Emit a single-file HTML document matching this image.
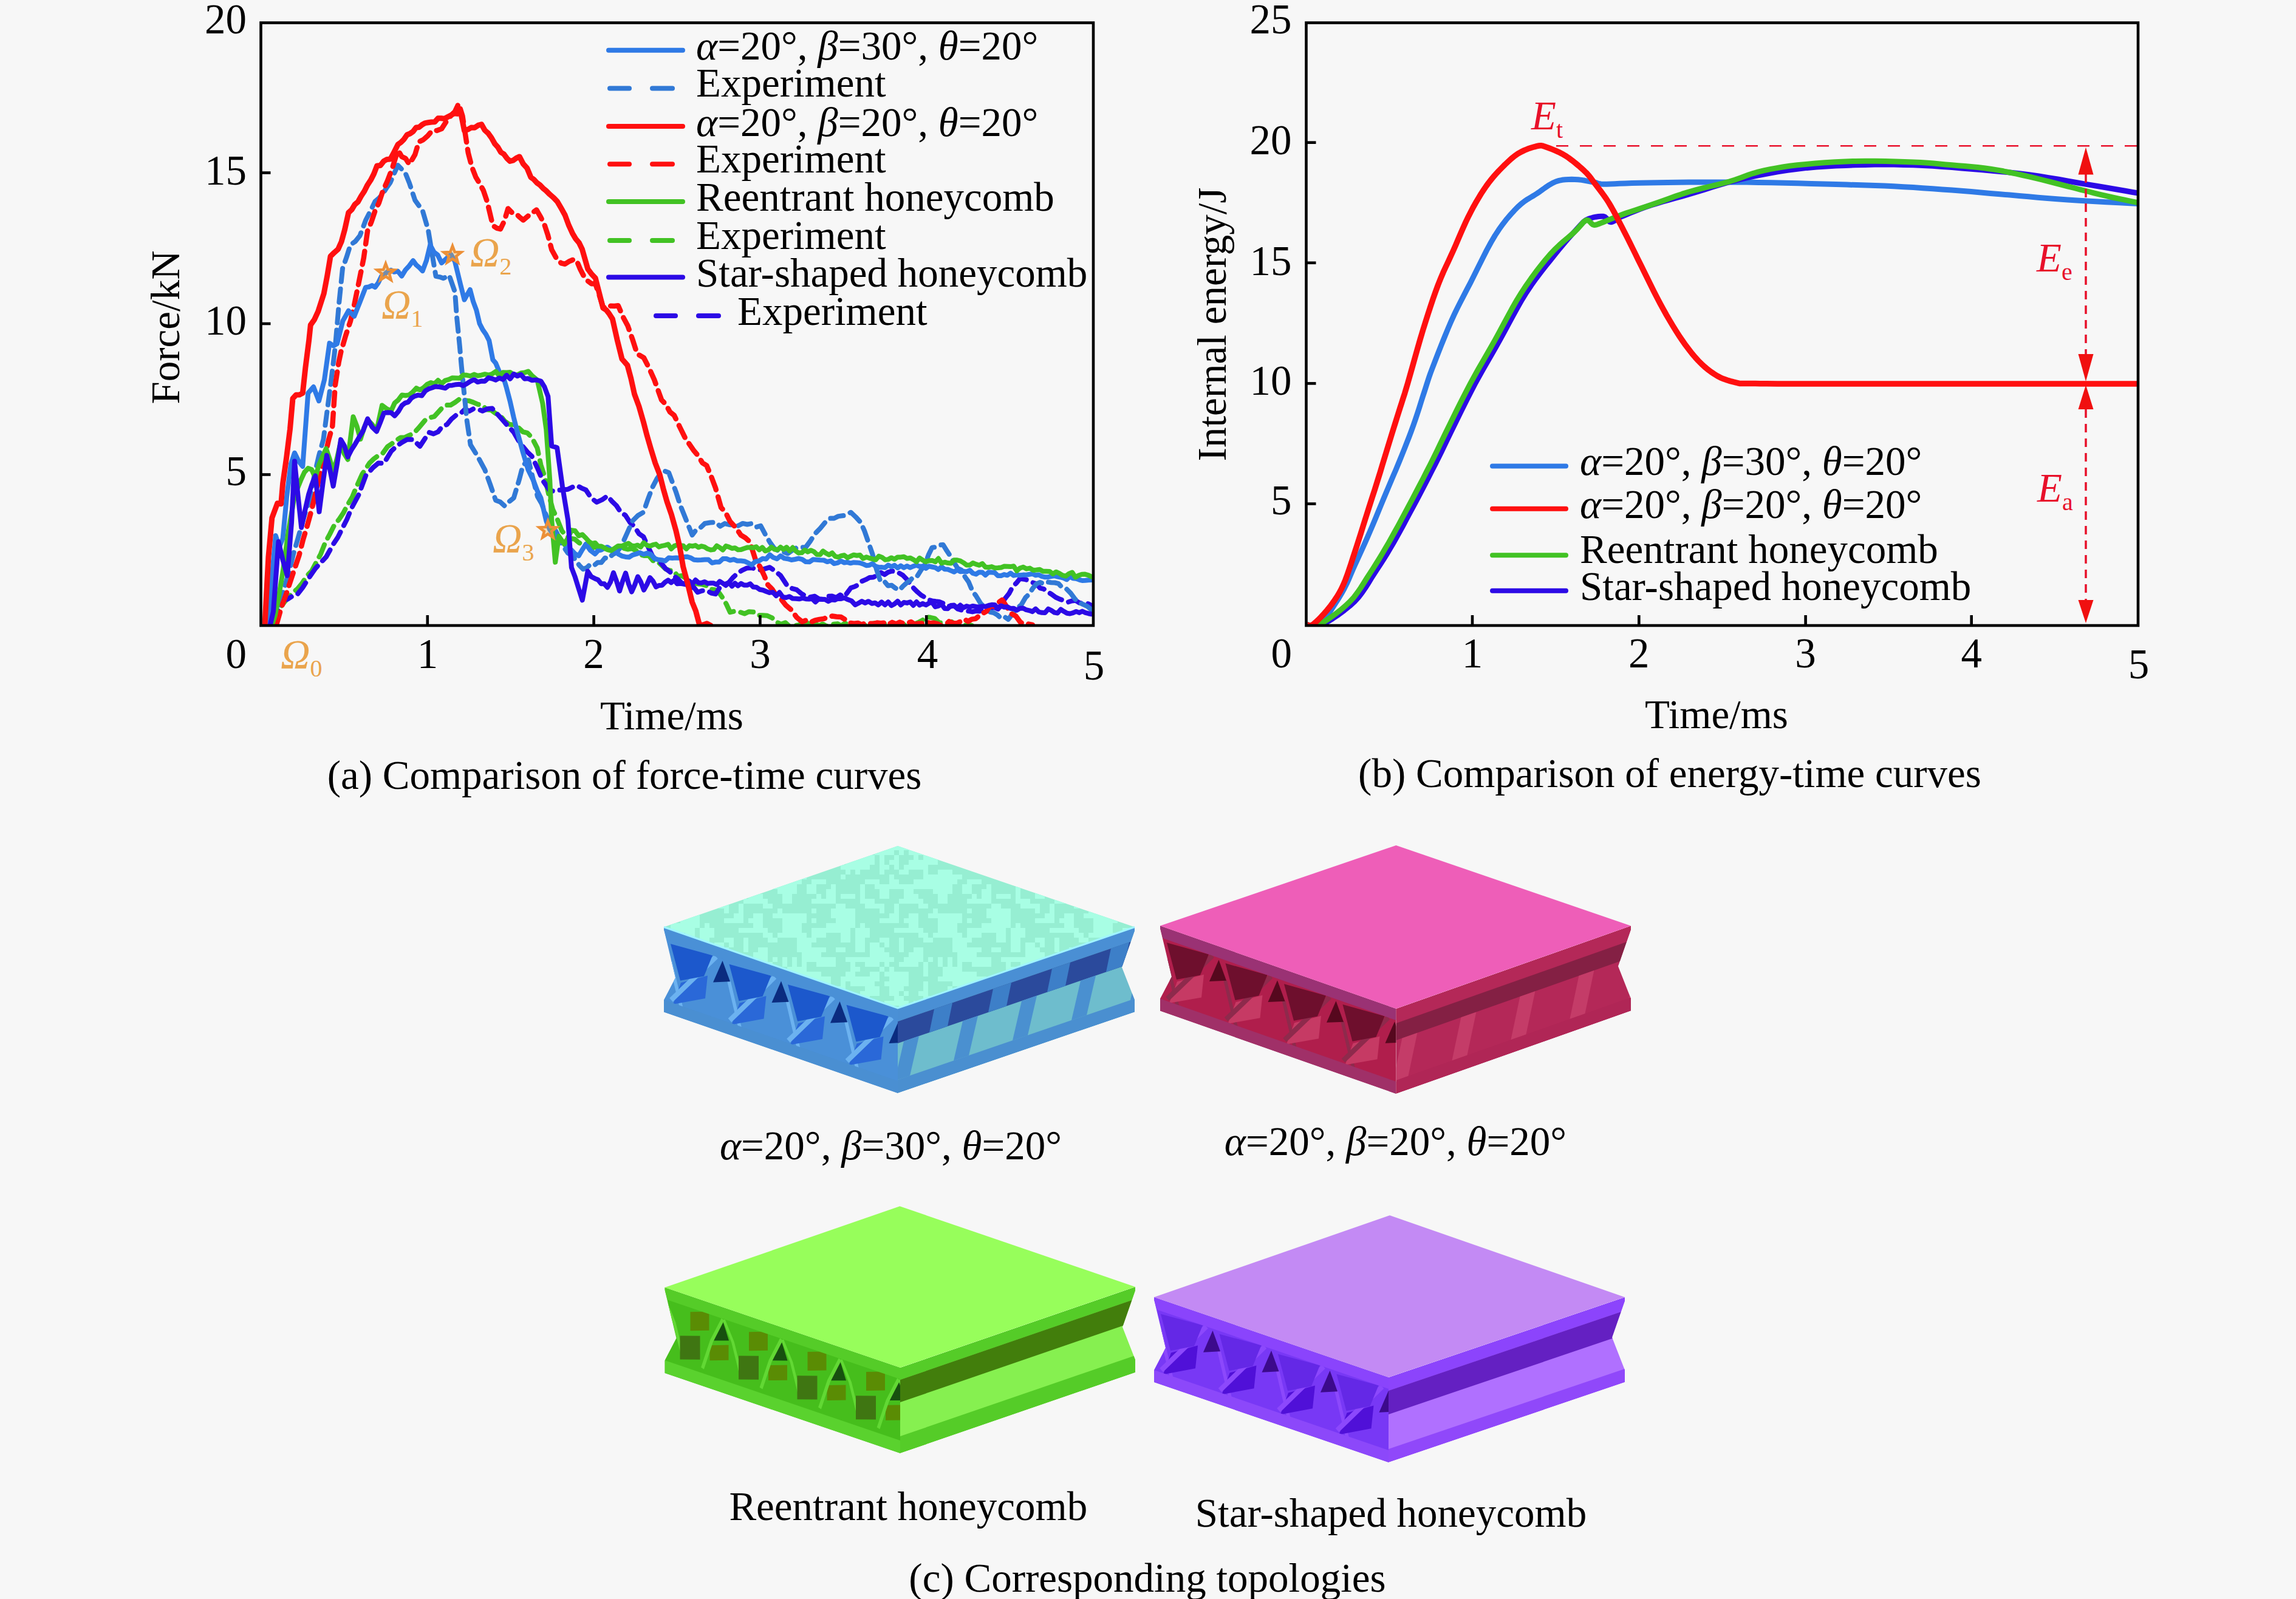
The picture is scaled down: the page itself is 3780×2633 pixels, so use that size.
<!DOCTYPE html>
<html><head><meta charset="utf-8"><style>
html,body{margin:0;padding:0;background:#f7f7f7;}
body{width:3780px;height:2633px;overflow:hidden;}
svg{display:block;}
</style></head><body>
<svg xmlns="http://www.w3.org/2000/svg" width="3780" height="2633" viewBox="0 0 3780 2633">
<rect width="3780" height="2633" fill="#f7f7f7"/>
<defs><clipPath id="ca"><rect x="432" y="40" width="1366" height="988"/></clipPath><clipPath id="cb"><rect x="2153" y="40" width="1365" height="988"/></clipPath></defs>
<g clip-path="url(#ca)">
<polyline points="452.0,1029.0 462.0,999.7 468.3,991.3 474.6,984.3 482.0,975.7 489.4,970.0 497.3,960.5 505.3,948.1 513.2,940.1 520.6,926.0 528.0,912.3 535.5,893.2 542.9,879.6 550.3,864.9 557.7,855.9 565.2,844.8 572.6,830.6 580.0,818.3 587.4,800.4 596.3,780.7 608.2,762.7 615.6,755.4 623.0,750.1 630.5,745.8 637.9,735.6 645.3,730.4 652.8,724.8 659.7,720.5 666.7,720.2 673.6,717.0 681.0,713.5 688.4,705.6 700.3,691.5 707.7,687.7 715.1,685.8 727.0,672.6 734.5,667.1 741.9,667.0 749.3,662.5 756.7,657.0 764.2,659.2 771.6,659.9 779.0,662.4 786.4,665.7 793.8,667.4 801.3,674.5 808.7,675.3 816.1,680.9 823.5,684.1 831.0,693.4 838.4,698.7 845.8,699.6 853.2,703.8 860.7,711.0 868.1,712.8 875.5,720.3 884.5,737.6 890.4,765.4 896.3,783.6 903.1,813.1 910.0,838.6 917.5,855.0 925.0,874.0 932.0,882.8 939.0,886.5 946.0,887.7 953.0,893.5 960.0,897.6 966.7,898.2 973.3,903.4 980.0,900.6 986.7,903.7 993.3,903.9 1000.0,903.1 1006.7,906.4 1013.3,902.8 1020.0,905.9 1026.7,902.7 1033.3,904.5 1040.0,903.3 1047.0,906.4 1054.0,913.3 1061.0,915.1 1068.0,914.8 1075.0,923.3 1082.0,924.3 1089.0,930.4 1095.7,936.9 1102.4,939.3 1109.1,939.8 1115.8,948.9 1122.4,948.0 1129.1,952.0 1135.8,958.8 1142.5,959.9 1149.3,961.6 1156.2,962.3 1163.0,964.3 1170.0,970.3 1177.0,971.2 1184.0,976.3 1190.0,984.8 1196.0,995.2 1202.0,1008.2 1209.9,1006.3 1217.8,1007.8 1225.7,1010.6 1233.1,1007.2 1240.6,1007.8 1248.0,1013.1 1255.4,1013.3 1263.3,1013.8 1271.1,1017.4 1279.0,1024.6 1286.0,1027.8 1293.0,1025.2 1300.0,1031.7 1306.1,1031.3 1312.1,1029.6 1318.2,1028.5 1324.2,1026.6 1330.3,1026.2 1336.4,1031.8 1342.4,1027.4 1348.5,1030.2 1354.5,1027.5 1360.6,1030.9 1366.7,1029.6 1372.7,1027.8 1378.8,1027.1 1384.8,1030.3 1390.9,1026.4 1397.0,1027.4 1403.0,1029.4 1409.1,1031.1 1415.2,1029.7 1421.2,1027.7 1427.3,1031.5 1433.3,1027.2 1439.4,1026.1 1445.5,1027.6 1451.5,1028.7 1457.6,1026.4 1463.6,1027.1 1469.7,1028.2 1475.8,1029.4 1481.8,1026.8 1487.9,1028.2 1493.9,1031.3 1500.0,1031.9 1506.2,1027.2 1512.5,1024.6 1518.8,1021.3 1525.0,1015.8 1532.0,1016.8 1539.0,1018.3 1546.0,1025.3 1553.0,1025.6 1560.0,1028.8 1566.7,1023.8 1573.3,1028.2 1580.0,1027.9 1586.7,1030.0 1593.3,1028.2 1600.0,1030.0" fill="none" stroke="#42c224" stroke-width="8" stroke-linejoin="round" stroke-linecap="round" stroke-dasharray="22,12" />
<polyline points="447.8,1025.0 456.7,1006.2 465.6,988.6 473.5,986.7 481.5,981.6 489.4,978.9 498.3,967.6 507.2,953.6 519.1,936.2 528.0,926.5 537.0,917.0 548.8,895.9 556.2,884.7 563.7,869.8 571.1,855.2 578.5,837.2 590.4,814.9 602.3,783.1 614.2,769.9 623.1,762.4 632.0,763.1 643.9,743.2 652.8,734.7 661.7,728.4 670.6,723.4 679.5,723.7 691.4,734.8 698.8,723.5 706.2,712.0 713.7,714.4 721.1,711.2 728.5,701.7 735.9,699.1 743.3,690.0 750.8,683.7 758.2,681.0 765.6,673.8 772.5,677.0 779.5,673.1 786.4,673.8 794.3,676.7 802.3,673.3 810.2,672.4 822.0,685.4 828.0,692.1 834.0,698.9 845.8,711.7 853.2,724.8 860.7,735.1 868.1,744.1 875.5,751.1 884.5,770.0 893.4,790.9 905.2,807.6 912.7,809.0 920.1,807.2 927.5,806.4 935.0,805.7 942.4,802.1 949.8,799.5 957.2,803.6 964.6,806.7 973.5,820.3 982.5,826.9 991.2,822.9 1000.0,816.6 1007.4,825.3 1014.8,832.5 1022.2,843.7 1029.7,848.6 1037.1,860.2 1044.5,866.9 1052.0,878.9 1059.4,883.8 1066.8,900.2 1074.2,915.5 1081.4,923.9 1088.5,927.2 1095.7,936.3 1102.8,941.5 1110.0,948.7 1116.4,953.7 1122.8,960.4 1129.2,961.3 1135.7,967.9 1142.1,967.0 1148.5,975.3 1155.9,972.7 1163.3,972.4 1170.8,976.5 1178.2,978.2 1185.3,966.8 1192.4,962.4 1199.6,959.5 1206.7,951.0 1213.8,944.4 1221.7,939.1 1229.7,935.4 1237.6,934.9 1245.0,937.8 1252.4,938.6 1259.9,936.4 1267.3,934.2 1276.2,940.5 1285.1,947.7 1297.0,965.9 1304.4,969.2 1311.8,971.2 1319.2,977.4 1326.6,981.6 1334.0,983.2 1341.4,981.8 1348.9,986.6 1356.3,987.1 1363.0,981.7 1369.8,981.6 1376.5,984.1 1383.3,979.6 1390.0,982.7 1400.8,968.0 1406.9,966.0 1412.9,963.1 1419.0,957.1 1425.3,954.4 1431.6,951.0 1437.9,950.4 1444.2,947.4 1450.2,942.8 1456.3,946.1 1462.3,942.1 1468.3,940.4 1474.4,941.0 1480.4,943.7 1486.4,947.2 1492.5,953.5 1498.5,961.3 1504.5,968.8 1510.5,974.8 1516.5,980.0 1522.5,983.4 1528.6,987.7 1534.6,989.4 1540.6,990.3 1546.6,991.0 1552.7,993.3 1558.7,997.6 1564.7,998.7 1570.7,997.5 1576.7,1002.6 1582.8,1004.6 1588.8,1004.9 1594.8,1006.4 1600.9,1007.4 1606.9,1006.0 1612.9,1006.6 1618.9,1003.3 1625.0,1000.7 1631.0,1001.3 1637.0,1000.2 1643.0,1003.0 1649.0,993.7 1655.1,985.0 1661.1,977.6 1667.1,966.2 1673.2,960.2 1679.2,952.8 1686.0,953.7 1692.8,955.5 1699.5,959.1 1706.3,961.3 1712.3,968.3 1718.4,969.9 1724.4,974.4 1731.2,978.5 1738.0,983.5 1744.7,986.6 1751.5,988.7 1758.0,991.6 1764.4,989.5 1770.9,988.8 1777.3,992.8 1783.8,993.9 1790.2,993.6 1796.7,996.8" fill="none" stroke="#2c0ae6" stroke-width="8" stroke-linejoin="round" stroke-linecap="round" stroke-dasharray="22,12" />
<polyline points="450.0,1029.0 456.7,1004.6 463.3,984.1 470.0,961.1 476.7,938.8 483.3,911.4 490.0,888.4 496.7,864.5 503.3,841.7 510.0,821.4 517.5,782.8 525.0,750.2 532.5,723.3 537.0,688.8 545.8,621.6 551.8,572.0 558.0,500.7 564.0,442.1 570.5,423.7 577.0,402.9 584.8,397.7 592.6,387.9 602.0,362.8 609.8,347.5 617.6,331.5 623.8,326.4 630.1,319.1 636.3,309.5 642.5,300.6 648.8,285.9 655.1,272.2 661.4,278.7 667.6,285.6 673.9,301.2 683.2,329.6 689.5,338.4 695.7,346.7 705.0,378.9 712.0,421.8 717.6,454.9 723.8,456.1 730.0,458.3 739.5,453.5 749.0,480.8 752.0,522.1 756.7,568.7 759.7,602.7 768.6,691.9 774.6,732.4 786.4,751.5 798.3,773.7 807.2,798.2 816.1,823.8 823.5,826.6 831.0,833.2 838.4,825.8 845.8,819.8 854.8,789.9 860.7,767.2 870.0,757.4 877.5,788.4 885.0,817.7 891.7,829.3 898.3,846.3 905.0,862.6 911.0,867.3 917.0,877.9 923.0,891.8 929.0,902.0 935.0,910.8 941.2,914.2 947.5,922.0 953.8,931.0 960.0,937.3 966.0,934.8 972.0,929.2 978.0,931.1 984.0,926.2 990.0,926.3 996.0,918.8 1002.0,919.8 1008.0,913.6 1014.0,910.3 1020.0,903.3 1027.2,889.7 1034.4,873.5 1041.6,857.5 1050.5,848.7 1059.4,843.4 1066.8,821.8 1074.2,802.3 1081.6,788.1 1089.0,777.9 1095.0,776.0 1101.0,778.2 1112.8,809.8 1120.2,832.6 1127.7,851.3 1139.6,881.0 1146.5,872.0 1153.5,868.5 1160.4,862.0 1169.3,860.5 1178.2,859.9 1185.6,866.6 1193.1,862.1 1200.5,864.0 1207.9,864.5 1215.3,865.7 1222.8,861.9 1230.2,863.5 1237.6,862.1 1245.0,867.9 1252.4,865.8 1259.8,879.7 1267.3,892.6 1274.7,902.8 1282.1,907.5 1289.5,908.7 1297.0,911.4 1304.4,906.2 1311.8,901.6 1319.2,901.5 1326.6,901.0 1334.0,891.0 1341.5,879.2 1350.4,870.0 1359.3,859.1 1366.2,853.6 1373.2,853.5 1380.1,850.1 1390.0,848.9 1400.8,843.7 1408.9,851.3 1417.1,860.3 1423.4,874.7 1429.8,893.2 1436.4,912.4 1443.0,937.5 1449.6,957.6 1455.8,956.9 1461.9,964.4 1468.1,963.8 1474.2,968.5 1480.4,971.8 1486.4,965.4 1492.4,960.0 1498.5,955.8 1504.5,948.9 1510.5,948.1 1516.5,938.5 1522.5,930.1 1528.6,913.8 1534.6,901.6 1540.6,900.9 1546.7,897.6 1552.7,897.0 1558.7,906.8 1564.7,915.7 1570.8,926.8 1576.8,935.9 1582.8,938.6 1588.8,950.0 1594.8,958.4 1600.9,973.3 1606.9,981.2 1614.6,993.9 1622.3,1001.0 1630.0,1007.8 1636.0,1009.0 1642.0,1012.5 1648.0,1018.2 1654.0,1015.9 1660.0,1019.9 1667.0,1010.7 1674.1,1002.0 1681.2,996.2 1688.2,984.2 1694.2,978.2 1700.3,968.8 1706.3,961.4 1712.3,958.9 1718.4,961.3 1724.4,958.4 1730.4,959.2 1736.5,959.5 1742.5,960.8 1749.3,968.0 1756.0,970.0 1762.8,976.9 1769.6,986.1 1776.4,992.3 1783.2,995.2 1789.9,998.3 1796.7,1004.0" fill="none" stroke="#3179d6" stroke-width="8" stroke-linejoin="round" stroke-linecap="round" stroke-dasharray="22,12" />
<polyline points="455.0,1029.0 463.3,1000.0 471.6,977.0 483.5,940.9 492.4,914.6 498.7,889.6 505.0,868.5 512.5,841.4 520.0,811.0 527.5,778.8 535.0,751.1 541.1,724.4 547.3,701.7 551.8,634.7 557.7,596.3 561.3,579.4 569.1,552.6 577.0,528.6 583.2,502.2 589.4,471.6 598.8,424.9 605.1,380.3 611.4,365.4 617.6,346.8 623.8,334.1 630.0,315.3 637.9,297.8 645.7,277.5 655.1,247.0 661.4,257.9 667.6,260.8 673.9,270.5 683.2,254.6 689.5,233.6 696.8,230.1 704.1,223.8 711.4,215.2 719.2,214.9 727.0,212.1 734.8,200.0 742.6,190.1 748.9,183.8 755.1,170.7 761.4,190.7 770.8,251.7 777.0,275.3 783.2,291.3 789.5,302.0 795.8,313.6 802.0,331.9 811.4,371.4 817.6,375.6 823.9,377.2 830.1,364.3 836.4,343.4 842.6,349.8 848.9,351.1 855.1,357.3 861.4,362.4 868.7,356.3 876.0,350.6 883.3,345.6 889.5,356.3 895.8,368.2 902.0,387.1 908.3,411.2 917.7,428.4 924.0,433.3 930.2,434.8 936.5,430.7 942.8,428.0 949.0,428.2 955.2,443.1 961.5,455.4 967.7,462.7 974.0,467.2 980.2,467.2 986.5,485.5 992.8,505.6 999.0,507.8 1005.3,503.8 1011.5,504.0 1017.8,503.3 1025.6,521.6 1033.4,536.2 1041.2,558.4 1049.0,582.6 1060.0,589.2 1068.6,606.1 1077.2,625.3 1089.1,658.5 1096.0,665.6 1103.0,678.4 1109.9,683.8 1118.8,702.5 1127.7,720.5 1135.1,731.6 1142.5,742.3 1149.4,750.4 1156.4,762.2 1163.3,766.5 1170.8,784.2 1178.2,804.1 1187.1,835.7 1194.5,843.8 1201.9,858.6 1210.8,868.1 1219.7,881.1 1227.2,885.7 1234.6,892.3 1243.5,920.8 1250.9,932.7 1258.3,948.0 1264.3,963.1 1271.2,970.2 1278.1,980.7 1285.0,985.3 1294.0,996.8 1302.9,1004.3 1311.8,1016.8 1320.7,1023.9 1327.8,1021.1 1334.9,1024.6 1342.1,1021.3 1349.2,1019.9 1356.3,1018.9 1363.2,1015.9 1370.2,1014.5 1377.1,1015.5 1384.7,1016.1 1392.4,1020.8 1400.0,1025.9 1406.2,1026.7 1412.5,1025.9 1418.8,1028.6 1425.0,1025.6 1431.2,1026.5 1437.5,1027.1 1443.8,1025.5 1450.0,1026.3 1456.2,1025.5 1462.5,1028.6 1468.8,1024.8 1475.0,1027.5 1481.2,1024.5 1487.5,1026.6 1493.8,1026.3 1500.0,1024.1 1506.2,1028.0 1512.5,1026.7 1518.8,1026.5 1525.0,1023.8 1531.2,1026.3 1537.5,1025.8 1543.8,1027.4 1550.0,1030.6 1556.2,1029.2 1562.5,1023.4 1568.8,1026.1 1575.0,1026.6 1581.2,1023.3 1587.5,1019.6 1593.8,1023.2 1600.0,1019.6 1606.0,1018.9 1612.0,1014.2 1618.0,1010.0 1624.0,1006.6 1630.0,997.4 1636.7,998.4 1643.3,992.2 1650.0,987.8 1657.5,999.3 1665.0,1010.5 1672.5,1014.5 1680.0,1024.7 1686.7,1028.0 1693.3,1027.6 1700.0,1029.0" fill="none" stroke="#ff1010" stroke-width="8.5" stroke-linejoin="round" stroke-linecap="round" stroke-dasharray="22,12" />
<polyline points="441.9,1029.0 447.0,958.0 453.8,881.9 460.0,900.8 465.6,886.6 472.0,818.3 479.0,763.8 485.0,745.8 492.0,760.1 498.3,768.0 507.2,647.4 516.1,637.0 525.0,660.2 534.0,625.5 542.5,565.1 548.8,569.5 555.0,566.1 564.4,528.4 573.8,511.8 583.2,520.7 592.6,497.2 602.0,473.1 607.2,472.5 612.4,470.1 617.6,472.9 622.8,465.6 628.0,454.9 633.2,451.6 638.4,447.1 643.6,444.8 648.8,447.7 655.0,446.6 661.3,454.6 667.6,444.4 673.8,437.7 680.1,429.2 685.3,436.3 690.5,440.8 695.7,446.1 702.0,429.2 708.2,403.5 714.5,415.1 720.7,420.0 727.0,432.9 732.2,428.3 737.4,423.3 742.6,419.2 748.9,430.6 758.3,469.1 764.5,493.5 773.9,476.9 779.1,496.7 784.3,510.7 789.5,532.7 794.7,542.9 800.0,550.5 805.2,560.6 811.4,592.4 816.1,597.9 822.0,612.0 828.0,618.7 834.0,638.9 839.9,661.6 845.8,687.6 851.8,711.5 860.7,744.2 869.6,773.8 878.5,792.0 884.5,808.0 890.4,819.7 899.3,857.7 905.2,872.2 911.2,880.0 917.1,884.8 923.1,889.7 929.0,895.7 935.0,904.2 940.9,905.6 946.9,912.1 952.8,915.2 958.7,905.1 964.6,896.0 972.0,906.4 979.5,912.2 984.6,906.7 989.8,905.6 994.9,902.6 1000.0,900.9 1005.9,904.8 1011.9,905.1 1017.8,912.2 1023.8,915.6 1029.7,916.9 1035.6,917.5 1041.6,913.9 1047.5,912.1 1053.5,910.1 1059.4,912.7 1065.3,910.8 1071.3,912.6 1077.2,919.4 1083.2,921.6 1089.1,922.2 1095.0,923.7 1101.0,918.4 1106.9,919.0 1112.9,918.6 1118.8,918.8 1124.7,917.3 1130.7,916.7 1136.6,918.3 1142.6,921.7 1148.5,922.2 1154.4,922.0 1160.4,921.6 1166.3,921.4 1172.3,926.9 1178.2,925.5 1184.1,925.5 1190.1,920.1 1196.0,920.0 1202.0,922.5 1207.9,921.1 1213.8,923.4 1219.8,923.5 1225.7,924.2 1231.7,926.9 1237.6,930.3 1243.5,924.7 1249.5,923.7 1255.4,919.8 1261.4,920.4 1267.3,913.5 1273.2,918.1 1279.2,920.3 1285.1,915.3 1291.1,919.3 1297.0,920.2 1302.9,922.0 1308.8,921.0 1314.8,919.6 1320.7,921.1 1326.6,925.1 1332.5,925.3 1338.5,921.3 1344.4,921.7 1350.4,922.3 1356.3,922.5 1361.9,925.1 1367.5,923.5 1373.2,928.0 1378.8,926.9 1384.4,923.9 1390.0,926.5 1395.2,925.8 1400.3,927.3 1405.5,926.2 1410.7,926.4 1415.8,927.0 1421.0,928.7 1426.2,931.2 1431.3,930.7 1436.5,928.2 1441.6,932.7 1446.8,934.2 1452.0,934.1 1457.1,934.7 1462.3,930.5 1467.5,933.3 1472.6,930.9 1477.8,935.1 1483.0,931.6 1488.1,934.8 1493.3,932.0 1498.4,934.7 1503.6,932.4 1508.8,930.8 1513.9,932.8 1519.1,932.4 1524.3,935.9 1529.4,932.3 1534.6,933.5 1539.8,934.6 1544.9,937.8 1550.1,933.4 1555.2,937.2 1560.4,937.5 1565.5,939.6 1570.7,941.8 1575.9,938.4 1581.0,941.2 1586.2,940.7 1591.4,941.4 1596.5,939.0 1601.7,944.0 1606.8,945.5 1612.0,942.2 1617.2,942.5 1622.3,947.1 1627.5,942.3 1632.7,942.6 1637.8,943.1 1643.0,948.1 1648.2,947.9 1653.3,946.1 1658.5,947.3 1663.7,943.8 1668.9,947.7 1674.0,946.6 1679.2,947.2 1684.4,946.6 1689.5,946.8 1694.7,945.8 1699.9,944.9 1705.1,947.3 1710.2,946.4 1715.4,949.2 1720.5,950.3 1725.6,950.2 1730.7,949.0 1735.8,948.2 1740.9,949.5 1746.0,950.5 1751.1,951.9 1756.2,954.3 1761.3,949.4 1766.4,952.3 1771.5,952.8 1776.6,954.6 1781.7,956.0 1786.8,955.8 1791.9,955.3 1797.0,955.0" fill="none" stroke="#2f7ae6" stroke-width="8" stroke-linejoin="round" stroke-linecap="round" />
<polyline points="447.8,1029.0 452.9,1013.2 458.0,987.1 465.6,942.2 474.6,876.0 483.5,824.8 489.2,805.6 495.0,791.2 501.1,777.8 507.2,771.1 513.1,773.3 519.1,786.5 525.0,765.5 531.0,751.9 536.9,738.7 542.8,756.0 548.8,777.3 554.8,754.8 560.7,728.7 566.7,747.2 572.6,756.7 581.5,686.2 587.5,701.6 593.4,723.2 599.3,704.7 605.2,691.2 612.6,698.8 620.0,709.2 629.0,667.5 636.5,673.0 643.9,676.7 649.8,663.5 655.7,658.7 661.7,650.5 667.6,651.3 673.5,650.4 679.5,645.5 685.4,639.1 691.4,642.2 697.3,638.5 703.2,632.9 709.2,630.0 715.1,632.1 721.1,626.3 727.0,631.7 732.9,626.6 738.9,624.9 744.8,622.2 750.8,622.5 756.7,622.7 762.6,617.6 768.6,617.8 774.5,619.2 780.5,616.6 786.4,618.7 792.3,617.7 798.3,616.2 804.2,617.5 810.2,615.8 816.1,611.7 822.0,618.7 828.0,613.2 833.9,613.6 839.9,613.0 845.8,616.9 851.7,617.4 857.7,614.2 863.6,613.6 869.6,611.5 875.5,618.2 884.5,625.7 893.4,664.4 899.3,707.3 905.2,790.3 908.2,855.9 914.2,925.8 920.1,883.0 929.0,895.9 935.0,886.1 940.9,873.1 946.8,874.0 952.8,882.3 958.7,880.2 964.6,886.0 969.7,891.9 974.7,895.2 979.8,894.0 984.8,899.6 989.9,899.4 994.9,902.1 1000.0,905.2 1005.9,906.7 1011.9,902.9 1017.8,898.9 1023.8,899.2 1029.7,896.7 1034.7,894.7 1039.7,898.5 1044.8,899.1 1049.8,897.7 1054.8,900.7 1059.8,893.6 1064.8,897.8 1069.9,899.2 1074.9,897.2 1079.9,896.1 1084.9,900.6 1090.0,898.8 1095.0,897.8 1100.0,896.3 1105.0,903.9 1110.0,899.1 1115.0,897.4 1120.0,898.3 1125.0,898.8 1130.0,903.8 1135.0,898.5 1140.0,899.4 1145.0,898.1 1150.0,901.3 1155.0,899.3 1160.0,900.6 1165.0,903.8 1170.0,905.5 1175.0,904.9 1180.0,898.7 1185.0,901.6 1190.0,905.5 1195.0,899.1 1200.0,900.6 1205.0,903.0 1210.0,902.3 1215.0,905.3 1220.0,905.1 1225.0,903.2 1230.0,901.6 1235.0,901.5 1240.0,901.9 1245.0,900.4 1250.0,905.3 1255.0,901.4 1260.0,907.3 1265.0,905.5 1270.0,900.9 1275.0,904.5 1280.0,905.4 1285.0,901.0 1290.0,904.7 1295.0,901.1 1300.0,907.1 1305.0,901.6 1310.0,907.2 1315.0,910.6 1320.0,910.1 1325.0,905.8 1330.0,908.7 1335.0,906.2 1340.0,908.4 1345.0,913.1 1350.0,913.3 1355.0,907.4 1360.0,911.0 1365.0,913.6 1370.0,910.5 1375.0,916.1 1380.0,917.4 1385.0,915.2 1390.0,914.3 1395.2,918.4 1400.3,916.0 1405.5,913.7 1410.7,914.7 1415.8,914.0 1421.0,919.7 1426.2,917.3 1431.3,919.0 1436.5,920.3 1441.6,921.8 1446.8,915.8 1452.0,917.7 1457.1,921.7 1462.3,921.1 1467.5,918.4 1472.6,920.8 1477.8,917.4 1483.0,917.4 1488.1,916.7 1493.3,919.6 1498.4,918.7 1503.6,921.3 1508.8,925.1 1513.9,918.9 1519.1,922.4 1524.3,925.1 1529.4,923.2 1534.6,922.9 1539.8,925.2 1544.9,919.6 1550.1,927.4 1555.3,925.7 1560.4,927.1 1565.6,927.6 1570.8,922.2 1575.9,922.3 1581.1,923.6 1586.2,926.6 1591.4,930.4 1596.6,930.6 1601.7,927.0 1606.9,929.1 1612.1,930.7 1617.2,928.0 1622.4,933.8 1627.6,934.2 1632.7,933.1 1637.9,935.2 1643.1,935.0 1648.2,934.5 1653.4,932.5 1658.5,932.8 1663.7,933.1 1668.9,932.3 1674.0,939.9 1679.2,935.5 1684.6,933.8 1690.0,936.7 1695.5,935.6 1700.9,938.9 1706.3,938.5 1711.7,937.8 1717.1,940.8 1722.6,940.8 1728.0,940.9 1733.4,945.1 1738.7,941.7 1744.0,944.1 1749.3,947.4 1754.6,948.7 1759.9,944.6 1765.2,942.5 1770.5,950.4 1775.8,947.5 1781.1,945.7 1786.4,945.6 1791.7,947.1 1797.0,949.8" fill="none" stroke="#42c224" stroke-width="8" stroke-linejoin="round" stroke-linecap="round" />
<polyline points="444.9,1029.0 450.0,1007.1 458.5,892.1 465.8,923.0 473.0,948.0 480.0,860.7 485.0,759.4 490.6,816.1 496.2,868.7 502.1,840.9 508.0,814.6 513.6,797.2 519.2,783.4 525.5,842.8 531.8,794.1 538.0,749.9 543.3,773.7 548.6,800.6 554.9,764.6 561.1,723.9 566.9,734.0 572.6,752.4 578.5,740.9 584.5,731.6 590.4,721.4 597.8,709.3 605.2,689.6 612.6,703.2 620.0,710.4 626.0,695.7 632.0,680.1 637.9,679.3 643.9,679.5 649.8,684.6 655.8,677.6 661.7,667.7 666.9,663.6 672.1,662.1 677.3,655.5 682.5,652.4 688.4,650.6 694.4,651.6 700.3,643.7 706.2,640.1 711.4,638.5 716.6,636.5 721.8,636.9 727.0,637.8 732.9,639.2 738.9,634.7 744.8,634.4 750.8,633.2 756.7,632.7 762.6,635.0 768.6,631.7 774.5,627.9 780.5,625.2 786.4,629.1 792.3,627.6 798.3,627.7 804.2,622.1 810.2,623.6 816.1,625.7 822.0,622.5 828.0,624.8 833.9,617.9 839.9,623.8 845.8,615.8 851.7,619.3 857.7,616.8 863.6,623.7 869.6,623.3 875.5,626.2 883.0,625.6 890.4,627.5 896.3,636.8 902.3,653.0 908.2,734.3 917.1,737.0 926.0,801.4 935.0,856.0 940.9,934.7 946.8,950.2 952.8,969.6 958.7,988.3 967.6,940.7 973.5,949.7 979.5,952.7 984.6,954.8 989.8,961.2 994.9,961.3 1000.0,967.2 1005.0,958.5 1010.0,943.0 1015.0,956.9 1020.0,973.2 1025.0,957.1 1030.0,943.7 1035.0,961.6 1040.0,974.5 1045.0,963.2 1050.0,949.5 1055.0,958.3 1060.0,971.5 1065.0,962.6 1070.0,951.1 1075.0,956.9 1080.0,966.4 1085.0,964.0 1090.0,963.7 1095.0,958.7 1100.0,955.4 1105.0,959.4 1110.0,955.4 1115.0,961.3 1120.0,960.7 1125.0,961.5 1130.0,962.7 1135.0,957.0 1140.0,961.6 1145.0,955.1 1150.0,959.5 1155.0,959.8 1160.0,957.9 1165.0,960.7 1170.0,960.3 1175.0,960.3 1180.0,962.7 1185.0,957.3 1190.0,960.5 1195.0,964.0 1200.0,959.1 1205.0,965.3 1210.0,960.4 1215.0,964.6 1220.0,960.9 1225.0,963.5 1230.0,963.6 1235.0,961.3 1240.0,966.6 1245.4,967.0 1250.8,970.8 1256.2,971.7 1261.6,974.0 1267.0,975.9 1272.4,975.2 1277.8,981.1 1283.3,975.6 1288.7,983.0 1294.1,984.0 1299.5,982.2 1304.9,985.5 1310.3,985.7 1315.8,986.3 1321.2,984.9 1326.6,986.2 1331.9,986.4 1337.2,986.0 1342.4,991.3 1347.7,986.4 1353.0,986.7 1358.3,987.0 1363.6,990.2 1368.9,987.5 1374.2,988.1 1379.4,985.7 1384.7,985.9 1390.0,984.4 1396.0,987.3 1402.0,989.5 1408.0,996.0 1413.4,993.2 1418.9,990.1 1424.3,992.9 1429.7,990.2 1435.2,993.7 1440.6,992.7 1446.0,996.1 1451.4,991.3 1456.9,996.0 1462.3,991.2 1467.5,997.2 1472.6,994.5 1477.8,989.9 1483.0,996.2 1488.1,992.0 1493.3,992.9 1498.4,991.3 1503.6,996.9 1508.8,991.1 1513.9,996.4 1519.1,993.8 1524.3,996.2 1529.4,993.2 1534.6,991.6 1539.8,999.1 1544.9,997.8 1550.1,994.7 1555.2,1001.9 1560.4,1002.2 1565.5,997.1 1570.7,996.6 1575.9,1000.8 1581.0,996.5 1586.2,1000.7 1591.4,998.1 1596.6,999.5 1601.7,997.9 1606.9,999.0 1612.1,999.8 1617.2,998.4 1622.4,998.7 1627.6,997.0 1632.7,995.8 1637.9,995.9 1643.1,1002.4 1648.2,997.5 1653.4,999.7 1658.5,999.2 1663.7,1002.0 1668.9,1001.7 1674.0,1004.7 1679.2,1001.7 1684.4,1001.5 1689.5,1004.2 1694.7,1005.3 1699.9,1007.1 1705.0,1002.6 1710.2,1007.6 1715.3,1008.8 1720.5,1009.1 1725.7,1002.7 1730.8,1005.1 1736.0,1008.6 1741.2,1009.5 1746.3,1003.5 1751.5,1006.8 1756.6,1009.8 1761.6,1010.5 1766.7,1009.1 1771.7,1006.9 1776.8,1008.9 1781.8,1006.5 1786.9,1008.9 1791.9,1010.2 1797.0,1011.2" fill="none" stroke="#2c0ae6" stroke-width="8" stroke-linejoin="round" stroke-linecap="round" />
<polyline points="436.0,1029.0 441.9,917.5 447.8,852.7 456.7,828.7 462.7,829.8 465.6,796.1 471.6,753.9 477.5,706.5 482.0,656.3 487.4,650.3 492.9,650.1 498.3,647.2 502.8,605.9 508.7,559.7 511.3,535.1 517.5,526.3 523.8,512.6 533.2,483.4 538.7,454.3 544.1,422.0 550.4,415.8 556.6,410.4 562.1,398.0 567.6,378.0 573.8,350.1 579.0,345.3 584.2,336.7 589.4,332.3 594.6,322.9 599.9,314.7 605.1,304.4 610.3,296.6 615.5,286.4 620.7,272.9 626.2,272.6 631.7,265.4 637.1,262.4 642.6,262.1 648.9,250.3 655.1,237.9 660.1,234.4 665.1,229.3 670.1,222.0 675.1,220.0 680.1,216.5 685.1,209.9 690.1,209.4 695.1,205.2 700.1,202.6 705.1,201.8 710.5,201.0 715.8,200.7 721.2,194.7 726.5,194.8 731.9,195.5 737.2,192.5 742.6,189.6 747.8,186.8 753.1,187.4 758.3,184.2 764.5,215.1 770.1,213.3 775.8,210.1 781.4,210.2 787.1,206.4 792.7,204.8 798.2,214.5 803.7,219.4 809.1,226.9 814.6,236.7 819.6,242.2 824.6,250.7 829.6,253.8 834.6,260.7 839.6,265.4 844.8,264.2 850.0,260.4 855.2,257.9 861.4,269.9 867.7,276.7 873.9,291.8 878.9,295.5 883.9,301.0 889.0,304.7 894.0,309.9 899.0,314.0 905.2,320.2 911.5,325.6 917.7,332.2 924.0,343.1 930.2,354.3 936.5,371.2 942.7,384.7 947.9,393.3 953.2,399.6 958.4,410.2 967.7,442.8 974.0,451.4 980.2,457.9 986.5,482.4 992.8,507.2 998.0,510.3 1003.2,517.1 1008.4,525.2 1016.0,559.1 1024.0,591.1 1033.0,601.5 1038.8,623.1 1044.5,648.9 1052.0,669.2 1059.4,695.0 1065.3,717.6 1071.3,738.3 1078.7,762.4 1086.1,781.3 1092.0,804.7 1098.0,825.7 1105.4,847.3 1112.8,873.4 1118.8,899.3 1124.7,933.4 1132.2,961.2 1139.6,991.6 1145.5,1006.1 1151.4,1028.2 1157.6,1028.9 1163.8,1026.8 1170.0,1030.0" fill="none" stroke="#ff1010" stroke-width="9" stroke-linejoin="round" stroke-linecap="round" />
</g>
<polygon points="635.0,434.0 638.7,443.9 649.3,444.4 641.0,450.9 643.8,461.1 635.0,455.3 626.2,461.1 629.0,450.9 620.7,444.4 631.3,443.9" fill="#f0b040" fill-opacity="0.35" stroke="#ec9038" stroke-width="4.5" stroke-linejoin="miter"/>
<polygon points="745.0,405.0 748.7,414.9 759.3,415.4 751.0,421.9 753.8,432.1 745.0,426.3 736.2,432.1 739.0,421.9 730.7,415.4 741.3,414.9" fill="#f0b040" fill-opacity="0.35" stroke="#ec9038" stroke-width="4.5" stroke-linejoin="miter"/>
<polygon points="902.0,858.0 905.7,867.9 916.3,868.4 908.0,874.9 910.8,885.1 902.0,879.3 893.2,885.1 896.0,874.9 887.7,868.4 898.3,867.9" fill="#f0b040" fill-opacity="0.35" stroke="#ec9038" stroke-width="4.5" stroke-linejoin="miter"/>
<text x="628" y="524" font-family="Liberation Serif" font-size="67" fill="#eaa44c"><tspan font-style="italic">Ω</tspan><tspan font-size="40" dy="14">1</tspan></text>
<text x="774" y="438" font-family="Liberation Serif" font-size="67" fill="#eaa44c"><tspan font-style="italic">Ω</tspan><tspan font-size="40" dy="14">2</tspan></text>
<text x="811" y="909" font-family="Liberation Serif" font-size="67" fill="#eaa44c"><tspan font-style="italic">Ω</tspan><tspan font-size="40" dy="14">3</tspan></text>
<text x="462" y="1100" font-family="Liberation Serif" font-size="67" fill="#eaa44c"><tspan font-style="italic">Ω</tspan><tspan font-size="40" dy="14">0</tspan></text>
<rect x="429.5" y="37.5" width="1370.5" height="992.5" fill="none" stroke="#000" stroke-width="4.6"/>
<line x1="703.8" y1="1030" x2="703.8" y2="1013" stroke="#000" stroke-width="4.6"/>
<line x1="977.6" y1="1030" x2="977.6" y2="1013" stroke="#000" stroke-width="4.6"/>
<line x1="1251.4" y1="1030" x2="1251.4" y2="1013" stroke="#000" stroke-width="4.6"/>
<line x1="1525.2" y1="1030" x2="1525.2" y2="1013" stroke="#000" stroke-width="4.6"/>
<line x1="429.5" y1="781.5" x2="445.5" y2="781.5" stroke="#000" stroke-width="4.6"/>
<line x1="429.5" y1="533.0" x2="445.5" y2="533.0" stroke="#000" stroke-width="4.6"/>
<line x1="429.5" y1="284.5" x2="445.5" y2="284.5" stroke="#000" stroke-width="4.6"/>
<text x="406.0" y="55.0" font-family="Liberation Serif" font-size="69" text-anchor="end" fill="#000" >20</text>
<text x="406.0" y="303.6" font-family="Liberation Serif" font-size="69" text-anchor="end" fill="#000" >15</text>
<text x="406.0" y="550.5" font-family="Liberation Serif" font-size="69" text-anchor="end" fill="#000" >10</text>
<text x="406.0" y="798.5" font-family="Liberation Serif" font-size="69" text-anchor="end" fill="#000" >5</text>
<text x="406.0" y="1100.0" font-family="Liberation Serif" font-size="69" text-anchor="end" fill="#000" >0</text>
<text x="704.0" y="1100.0" font-family="Liberation Serif" font-size="69" text-anchor="middle" fill="#000" >1</text>
<text x="977.5" y="1100.0" font-family="Liberation Serif" font-size="69" text-anchor="middle" fill="#000" >2</text>
<text x="1251.5" y="1100.0" font-family="Liberation Serif" font-size="69" text-anchor="middle" fill="#000" >3</text>
<text x="1527.0" y="1100.0" font-family="Liberation Serif" font-size="69" text-anchor="middle" fill="#000" >4</text>
<text x="1801.0" y="1119.0" font-family="Liberation Serif" font-size="69" text-anchor="middle" fill="#000" >5</text>
<text x="1106.0" y="1200.6" font-family="Liberation Serif" font-size="67" text-anchor="middle" fill="#000" >Time/ms</text>
<text x="1028.0" y="1298.8" font-family="Liberation Serif" font-size="67" text-anchor="middle" fill="#000" >(a) Comparison of force-time curves</text>
<text transform="translate(295,539) rotate(-90)" font-family="Liberation Serif" font-size="67" text-anchor="middle">Force/kN</text>
<line x1="1002" y1="82.7" x2="1124" y2="82.7" stroke="#2f7ae6" stroke-width="8" stroke-linecap="round"/>
<text x="1146.0" y="97.8" font-family="Liberation Serif" font-size="67" text-anchor="start" fill="#000" ><tspan font-style="italic">α</tspan>=20°, <tspan font-style="italic">β</tspan>=30°, <tspan font-style="italic">θ</tspan>=20°</text>
<line x1="1004" y1="145.6" x2="1036" y2="145.6" stroke="#3179d6" stroke-width="8" stroke-linecap="round"/>
<line x1="1074" y1="145.6" x2="1107" y2="145.6" stroke="#3179d6" stroke-width="8" stroke-linecap="round"/>
<text x="1146.0" y="159.3" font-family="Liberation Serif" font-size="67" text-anchor="start" fill="#000" >Experiment</text>
<line x1="1002" y1="208" x2="1124" y2="208" stroke="#ff1010" stroke-width="8" stroke-linecap="round"/>
<text x="1146.0" y="224.4" font-family="Liberation Serif" font-size="67" text-anchor="start" fill="#000" ><tspan font-style="italic">α</tspan>=20°, <tspan font-style="italic">β</tspan>=20°, <tspan font-style="italic">θ</tspan>=20°</text>
<line x1="1004" y1="270.3" x2="1036" y2="270.3" stroke="#ff1010" stroke-width="8" stroke-linecap="round"/>
<line x1="1074" y1="270.3" x2="1107" y2="270.3" stroke="#ff1010" stroke-width="8" stroke-linecap="round"/>
<text x="1146.0" y="284.0" font-family="Liberation Serif" font-size="67" text-anchor="start" fill="#000" >Experiment</text>
<line x1="1002" y1="332" x2="1124" y2="332" stroke="#42c224" stroke-width="8" stroke-linecap="round"/>
<text x="1146.0" y="347.0" font-family="Liberation Serif" font-size="67" text-anchor="start" fill="#000" >Reentrant honeycomb</text>
<line x1="1004" y1="396" x2="1036" y2="396" stroke="#42c224" stroke-width="8" stroke-linecap="round"/>
<line x1="1074" y1="396" x2="1107" y2="396" stroke="#42c224" stroke-width="8" stroke-linecap="round"/>
<text x="1146.0" y="409.5" font-family="Liberation Serif" font-size="67" text-anchor="start" fill="#000" >Experiment</text>
<line x1="1002" y1="456.5" x2="1124" y2="456.5" stroke="#2c0ae6" stroke-width="8" stroke-linecap="round"/>
<text x="1146.0" y="472.0" font-family="Liberation Serif" font-size="67" text-anchor="start" fill="#000" >Star-shaped honeycomb</text>
<line x1="1080" y1="520" x2="1112" y2="520" stroke="#2c0ae6" stroke-width="8" stroke-linecap="round"/>
<line x1="1150" y1="520" x2="1183" y2="520" stroke="#2c0ae6" stroke-width="8" stroke-linecap="round"/>
<text x="1214.0" y="535.0" font-family="Liberation Serif" font-size="67" text-anchor="start" fill="#000" >Experiment</text>
<g clip-path="url(#cb)">
<polyline points="2152.0,1029.0 2154.1,1029.5 2156.9,1030.6 2160.3,1031.7 2164.1,1032.1 2168.4,1031.1 2173.0,1028.0 2178.3,1022.3 2184.3,1014.6 2190.8,1005.4 2197.3,995.6 2203.5,985.8 2208.8,977.0 2213.2,969.0 2217.1,961.3 2220.5,953.8 2223.8,946.1 2227.1,938.2 2230.8,930.0 2234.7,921.4 2238.7,912.7 2242.8,903.7 2247.0,894.4 2251.2,884.9 2255.5,875.0 2260.0,864.5 2264.7,853.3 2269.4,841.8 2274.1,830.4 2278.7,819.3 2283.0,809.0 2287.0,799.6 2290.7,790.7 2294.3,782.3 2297.9,774.0 2301.4,765.6 2305.0,756.8 2308.7,747.6 2312.5,738.1 2316.2,728.6 2320.0,719.0 2323.6,709.4 2327.0,700.0 2330.3,690.5 2333.5,680.9 2336.6,671.4 2339.5,662.0 2342.3,653.2 2345.0,645.0 2347.2,638.1 2349.0,632.4 2350.7,627.2 2352.5,621.7 2354.8,615.0 2358.0,606.5 2362.2,595.6 2367.1,582.8 2372.6,568.9 2378.3,554.7 2384.0,540.9 2389.4,528.3 2394.5,517.2 2399.5,506.9 2404.5,497.0 2409.6,487.2 2414.9,476.9 2420.7,465.8 2427.0,453.3 2433.7,439.7 2440.7,425.7 2447.7,411.9 2454.7,399.0 2461.4,387.6 2467.9,377.7 2474.4,368.7 2480.7,360.6 2487.0,353.3 2493.0,346.7 2498.9,340.7 2504.5,335.6 2509.8,331.5 2514.9,328.1 2520.0,325.0 2525.1,322.0 2530.2,318.8 2535.4,315.2 2540.6,311.4 2545.8,307.8 2551.0,304.3 2556.2,301.3 2561.4,299.0 2566.6,297.4 2571.8,296.3 2577.0,295.7 2582.3,295.4 2587.5,295.3 2592.7,295.4 2598.1,295.7 2603.7,296.4 2609.3,297.3 2614.7,298.3 2619.7,299.2 2624.0,300.0 2627.1,300.7 2629.2,301.3 2630.8,302.0 2632.7,302.5 2635.4,303.0 2639.6,303.2 2645.1,303.2 2651.2,303.0 2658.2,302.7 2666.2,302.3 2675.6,301.9 2686.5,301.6 2699.2,301.3 2713.5,301.0 2729.1,300.7 2745.7,300.4 2762.9,300.2 2780.3,300.0 2798.1,299.9 2816.6,299.9 2835.8,299.9 2855.3,300.0 2875.3,300.1 2895.4,300.4 2916.3,300.8 2938.1,301.3 2960.2,301.8 2982.1,302.4 3003.1,303.0 3022.6,303.6 3040.3,304.1 3056.8,304.6 3072.3,305.0 3087.4,305.5 3102.5,306.1 3118.0,306.8 3133.9,307.7 3149.8,308.6 3165.7,309.7 3181.6,310.8 3197.5,311.9 3213.4,313.1 3229.3,314.3 3245.2,315.6 3261.1,317.0 3276.9,318.4 3292.8,319.8 3308.7,321.1 3324.3,322.4 3339.7,323.8 3355.1,325.2 3370.7,326.5 3386.9,327.8 3404.0,329.0 3423.5,330.2 3445.4,331.5 3467.9,332.7 3489.1,333.8 3507.1,334.7 3519.9,335.4" fill="none" stroke="#2f7ae6" stroke-width="9" stroke-linejoin="round" stroke-linecap="round" />
<polyline points="2152.0,1029.0 2154.5,1029.3 2157.8,1030.1 2161.8,1030.8 2166.4,1031.1 2171.9,1030.3 2178.0,1028.0 2185.4,1024.0 2194.1,1018.6 2203.6,1012.2 2213.1,1005.1 2222.1,997.8 2230.0,990.6 2236.6,983.4 2242.5,975.8 2247.8,968.0 2252.9,960.0 2257.8,952.0 2263.0,943.9 2268.2,935.9 2273.3,928.0 2278.4,920.0 2283.5,911.8 2288.6,903.3 2293.8,894.4 2299.1,885.0 2304.5,875.3 2310.0,865.3 2315.5,855.0 2321.1,844.5 2326.8,833.8 2332.7,822.8 2338.7,811.3 2344.8,799.7 2350.9,788.0 2356.8,776.3 2362.6,765.0 2368.1,754.0 2373.4,743.2 2378.5,732.5 2383.7,721.8 2388.9,711.0 2394.3,700.0 2399.8,688.8 2405.3,677.6 2410.9,666.2 2416.7,654.7 2422.6,643.2 2428.7,631.5 2435.1,619.8 2441.7,608.0 2448.5,596.2 2455.4,584.2 2462.4,572.0 2469.4,559.6 2476.5,546.7 2483.6,533.4 2490.9,519.9 2498.2,506.5 2505.6,493.6 2513.1,481.4 2520.8,469.9 2528.8,458.7 2536.9,448.0 2544.9,437.8 2552.7,428.1 2560.0,418.9 2567.1,410.2 2574.1,401.8 2580.9,393.9 2587.3,386.7 2593.0,380.4 2598.0,375.0 2601.8,370.8 2604.6,367.8 2606.8,365.5 2608.8,363.9 2611.0,362.4 2614.0,361.0 2617.9,359.5 2622.3,358.2 2627.0,357.2 2631.7,356.5 2636.0,356.2 2639.6,356.3 2642.4,357.3 2644.5,359.1 2646.2,361.3 2647.9,363.5 2649.7,365.1 2652.0,365.7 2654.5,365.3 2656.8,364.2 2659.3,362.6 2662.4,360.6 2666.1,358.3 2671.0,356.0 2677.0,353.5 2684.0,350.6 2691.7,347.5 2700.0,344.3 2708.8,341.1 2717.8,338.0 2727.1,335.1 2736.7,332.2 2746.8,329.4 2757.3,326.5 2768.5,323.4 2780.3,320.0 2792.8,316.2 2806.1,312.1 2819.9,307.8 2834.2,303.5 2848.8,299.3 2863.6,295.6 2878.8,292.2 2894.5,288.9 2910.5,285.8 2926.8,282.9 2943.0,280.4 2959.0,278.2 2974.9,276.4 2990.8,275.0 3006.7,273.9 3022.6,273.1 3038.5,272.4 3054.4,271.8 3070.3,271.4 3086.2,271.1 3102.1,271.0 3118.0,271.1 3133.9,271.4 3149.8,271.8 3165.7,272.5 3181.6,273.3 3197.5,274.4 3213.4,275.6 3229.3,276.9 3245.2,278.2 3261.1,279.5 3277.0,280.9 3292.8,282.4 3308.7,283.9 3324.6,285.7 3340.5,287.7 3356.5,290.0 3372.7,292.6 3389.0,295.3 3405.0,298.2 3420.8,301.0 3436.0,303.6 3451.6,306.3 3467.9,309.0 3483.9,311.8 3498.6,314.3 3510.9,316.5 3519.9,318.0" fill="none" stroke="#2c0ae6" stroke-width="9" stroke-linejoin="round" stroke-linecap="round" />
<polyline points="2152.0,1029.0 2154.0,1029.3 2156.4,1030.1 2159.4,1030.8 2163.1,1031.1 2167.6,1030.3 2173.0,1028.0 2179.8,1024.0 2188.0,1018.6 2197.0,1012.2 2206.2,1005.1 2214.9,997.8 2222.5,990.6 2229.0,983.4 2234.8,975.8 2240.2,968.0 2245.3,960.0 2250.3,952.0 2255.5,943.9 2260.7,935.9 2265.7,928.0 2270.7,920.0 2275.6,911.8 2280.6,903.3 2285.8,894.4 2291.1,885.0 2296.5,875.3 2302.0,865.3 2307.5,855.0 2313.1,844.5 2318.8,833.8 2324.7,822.8 2330.7,811.3 2336.8,799.7 2342.9,788.0 2348.8,776.3 2354.6,765.0 2360.1,754.0 2365.4,743.2 2370.5,732.5 2375.7,721.8 2380.9,711.0 2386.3,700.0 2391.8,688.8 2397.3,677.6 2402.9,666.2 2408.7,654.7 2414.6,643.2 2420.7,631.5 2427.1,619.8 2433.7,608.0 2440.5,596.2 2447.4,584.2 2454.4,572.0 2461.4,559.6 2468.5,546.7 2475.6,533.4 2482.9,519.9 2490.2,506.5 2497.6,493.6 2505.1,481.4 2512.8,469.8 2520.7,458.5 2528.7,447.6 2536.7,437.3 2544.5,427.7 2552.0,418.9 2559.4,411.0 2566.8,403.9 2574.1,397.4 2581.0,391.6 2587.3,386.3 2592.7,381.4 2597.2,376.9 2600.8,372.8 2603.9,369.2 2606.5,366.2 2609.0,364.0 2611.5,362.6 2613.9,362.5 2616.0,363.7 2617.9,365.6 2619.8,367.7 2621.8,369.5 2624.0,370.4 2626.2,370.4 2628.4,370.0 2630.6,369.3 2633.1,368.3 2636.1,367.1 2639.6,365.7 2643.7,364.1 2648.3,362.2 2653.3,360.1 2658.7,357.9 2664.6,355.6 2670.9,353.2 2677.6,350.8 2684.8,348.5 2692.4,346.0 2700.4,343.4 2708.9,340.6 2717.8,337.6 2727.3,334.3 2737.3,330.7 2747.8,326.9 2758.5,323.1 2769.4,319.4 2780.3,316.0 2791.5,312.9 2803.1,309.9 2814.9,307.0 2826.5,304.3 2837.6,301.5 2847.7,298.8 2856.6,296.0 2864.5,293.2 2871.8,290.5 2879.1,287.8 2886.8,285.3 2895.4,282.9 2904.7,280.7 2914.2,278.7 2924.2,276.8 2934.9,275.0 2946.4,273.3 2959.0,271.8 2973.1,270.4 2988.4,269.0 3004.7,267.8 3021.4,266.8 3038.1,265.9 3054.4,265.4 3070.7,265.2 3087.4,265.2 3104.1,265.5 3120.4,265.9 3135.7,266.5 3149.8,267.0 3162.2,267.6 3173.4,268.3 3183.6,269.1 3193.4,270.0 3203.2,270.9 3213.4,271.8 3224.0,272.7 3234.6,273.6 3245.2,274.5 3255.8,275.5 3266.4,276.8 3277.0,278.2 3287.6,279.9 3298.2,281.8 3308.8,284.0 3319.3,286.2 3329.9,288.5 3340.5,290.9 3351.1,293.4 3361.7,296.0 3372.2,298.6 3382.8,301.4 3393.4,304.1 3404.0,306.8 3414.7,309.5 3425.6,312.3 3436.6,315.0 3447.3,317.8 3457.7,320.3 3467.7,322.7 3477.7,325.0 3487.9,327.2 3497.8,329.2 3506.8,331.1 3514.4,332.6 3519.9,333.8" fill="none" stroke="#42c224" stroke-width="9" stroke-linejoin="round" stroke-linecap="round" />
<polyline points="2152.0,1029.0 2152.9,1029.2 2153.9,1029.8 2155.3,1030.3 2157.0,1030.4 2159.2,1029.8 2162.0,1028.0 2165.6,1024.9 2170.1,1020.7 2175.0,1015.7 2180.1,1010.2 2185.0,1004.6 2189.5,999.0 2193.5,993.6 2197.3,988.2 2201.0,982.6 2204.6,976.7 2208.1,970.2 2211.5,963.0 2214.9,955.0 2218.1,946.3 2221.3,937.0 2224.5,927.4 2227.6,917.7 2230.8,908.0 2234.0,898.2 2237.2,888.3 2240.4,878.2 2243.6,867.9 2246.8,857.7 2250.0,847.6 2253.2,837.5 2256.4,827.5 2259.6,817.5 2262.9,807.4 2266.1,797.3 2269.3,787.0 2272.6,776.5 2275.8,765.7 2279.1,754.9 2282.4,744.2 2285.6,733.7 2288.6,723.8 2291.5,714.3 2294.4,705.1 2297.2,696.2 2299.9,687.6 2302.5,679.4 2305.0,671.5 2307.2,664.7 2309.0,659.0 2310.7,653.7 2312.6,647.9 2314.7,640.8 2317.5,631.5 2320.9,619.5 2324.9,605.4 2329.2,589.9 2333.7,574.0 2338.2,558.4 2342.5,544.0 2346.7,530.6 2350.9,517.4 2355.1,504.6 2359.2,492.2 2363.4,480.3 2367.6,469.0 2371.8,458.5 2375.9,448.8 2380.1,439.6 2384.3,430.7 2388.4,421.8 2392.6,412.6 2396.8,403.1 2400.9,393.4 2405.1,383.7 2409.3,374.1 2413.4,365.0 2417.6,356.3 2421.8,348.1 2425.9,340.3 2430.1,332.9 2434.3,325.8 2438.4,319.0 2442.6,312.6 2446.7,306.6 2450.7,301.1 2454.7,296.0 2458.8,291.0 2463.1,286.2 2467.6,281.3 2472.5,276.3 2477.6,271.1 2482.9,266.1 2488.2,261.3 2493.6,256.9 2498.9,253.2 2504.3,250.1 2509.9,247.4 2515.5,245.1 2520.9,243.3 2525.9,241.8 2530.2,240.7 2533.5,240.0 2536.0,239.7 2538.0,239.8 2540.0,240.2 2542.5,241.1 2545.8,242.2 2550.1,243.7 2555.0,245.6 2560.4,247.8 2566.0,250.3 2571.6,253.2 2577.0,256.3 2582.4,259.9 2588.0,264.1 2593.6,268.5 2599.0,273.0 2604.0,277.4 2608.3,281.3 2611.7,284.6 2614.3,287.4 2616.5,290.1 2618.7,292.8 2621.0,296.0 2624.0,300.0 2627.6,304.7 2631.6,309.9 2635.9,315.5 2640.3,321.5 2644.7,327.8 2649.0,334.5 2653.1,341.5 2657.2,348.9 2661.3,356.6 2665.4,364.6 2669.7,372.9 2674.0,381.4 2678.5,390.2 2683.0,399.2 2687.6,408.5 2692.3,418.0 2697.1,427.8 2702.0,437.6 2707.0,447.8 2712.2,458.3 2717.5,469.1 2722.8,479.8 2728.1,490.2 2733.4,500.2 2738.6,509.7 2743.8,519.1 2749.1,528.1 2754.3,536.9 2759.5,545.3 2764.7,553.3 2769.9,561.0 2775.1,568.4 2780.4,575.4 2785.6,582.1 2790.8,588.3 2796.0,594.0 2801.2,599.2 2806.4,604.0 2811.6,608.4 2816.8,612.3 2822.0,615.8 2827.2,619.0 2832.5,621.8 2838.0,624.1 2843.5,626.0 2848.8,627.6 2853.8,628.9 2858.5,630.0 2861.5,630.8 2862.7,631.2 2863.7,631.4 2865.9,631.4 2870.8,631.4 2880.0,631.5 2889.7,631.6 2897.9,631.8 2908.8,631.8 2926.7,631.9 2955.7,632.0 3000.0,632.0 3069.5,632.0 3163.0,632.0 3267.5,632.0 3370.4,632.0 3458.8,632.0 3520.0,632.0" fill="none" stroke="#ff1010" stroke-width="9.5" stroke-linejoin="round" stroke-linecap="round" />
</g>
<line x1="2562" y1="240.2" x2="3518" y2="240.2" stroke="#e8102a" stroke-width="2.6" stroke-dasharray="20,19"/>
<line x1="3434" y1="287" x2="3434" y2="583" stroke="#e8102a" stroke-width="3.5" stroke-dasharray="14,10"/>
<line x1="3434" y1="674" x2="3434" y2="988" stroke="#e8102a" stroke-width="3.5" stroke-dasharray="14,10"/>
<polygon points="3434,242.5 3421.5,287.5 3446.5,287.5" fill="#f01010"/>
<polygon points="3434,628 3421.5,583 3446.5,583" fill="#f01010"/>
<polygon points="3434,634 3421.5,674 3446.5,674" fill="#f01010"/>
<polygon points="3434,1026 3421.5,988 3446.5,988" fill="#f01010"/>
<text x="2521" y="213.2" font-family="Liberation Serif" font-size="67" fill="#e8102a"><tspan font-style="italic">E</tspan><tspan font-size="40" dy="14">t</tspan></text>
<text x="3353" y="446.6" font-family="Liberation Serif" font-size="67" fill="#e8102a"><tspan font-style="italic">E</tspan><tspan font-size="40" dy="14">e</tspan></text>
<text x="3354" y="825.6" font-family="Liberation Serif" font-size="67" fill="#e8102a"><tspan font-style="italic">E</tspan><tspan font-size="40" dy="14">a</tspan></text>
<rect x="2150.5" y="37.5" width="1369.5" height="992.5" fill="none" stroke="#000" stroke-width="4.6"/>
<line x1="2424.0" y1="1030" x2="2424.0" y2="1013" stroke="#000" stroke-width="4.6"/>
<line x1="2698.3" y1="1030" x2="2698.3" y2="1013" stroke="#000" stroke-width="4.6"/>
<line x1="2972.6" y1="1030" x2="2972.6" y2="1013" stroke="#000" stroke-width="4.6"/>
<line x1="3245.7" y1="1030" x2="3245.7" y2="1013" stroke="#000" stroke-width="4.6"/>
<line x1="2150.5" y1="234.7" x2="2166.5" y2="234.7" stroke="#000" stroke-width="4.6"/>
<line x1="2150.5" y1="432.8" x2="2166.5" y2="432.8" stroke="#000" stroke-width="4.6"/>
<line x1="2150.5" y1="631.4" x2="2166.5" y2="631.4" stroke="#000" stroke-width="4.6"/>
<line x1="2150.5" y1="829.6" x2="2166.5" y2="829.6" stroke="#000" stroke-width="4.6"/>
<text x="2126.5" y="55.0" font-family="Liberation Serif" font-size="69" text-anchor="end" fill="#000" >25</text>
<text x="2126.5" y="254.4" font-family="Liberation Serif" font-size="69" text-anchor="end" fill="#000" >20</text>
<text x="2126.5" y="453.4" font-family="Liberation Serif" font-size="69" text-anchor="end" fill="#000" >15</text>
<text x="2126.5" y="650.3" font-family="Liberation Serif" font-size="69" text-anchor="end" fill="#000" >10</text>
<text x="2126.5" y="847.0" font-family="Liberation Serif" font-size="69" text-anchor="end" fill="#000" >5</text>
<text x="2127.0" y="1099.0" font-family="Liberation Serif" font-size="69" text-anchor="end" fill="#000" >0</text>
<text x="2424.0" y="1099.0" font-family="Liberation Serif" font-size="69" text-anchor="middle" fill="#000" >1</text>
<text x="2698.3" y="1099.0" font-family="Liberation Serif" font-size="69" text-anchor="middle" fill="#000" >2</text>
<text x="2972.6" y="1099.0" font-family="Liberation Serif" font-size="69" text-anchor="middle" fill="#000" >3</text>
<text x="3245.7" y="1099.0" font-family="Liberation Serif" font-size="69" text-anchor="middle" fill="#000" >4</text>
<text x="3521.0" y="1117.0" font-family="Liberation Serif" font-size="69" text-anchor="middle" fill="#000" >5</text>
<text x="2826.0" y="1198.5" font-family="Liberation Serif" font-size="67" text-anchor="middle" fill="#000" >Time/ms</text>
<text x="2749.0" y="1296.4" font-family="Liberation Serif" font-size="67" text-anchor="middle" fill="#000" >(b) Comparison of energy-time curves</text>
<text transform="translate(2018,534) rotate(-90)" font-family="Liberation Serif" font-size="67" text-anchor="middle">Internal energy/J</text>
<line x1="2457" y1="767.4" x2="2578" y2="767.4" stroke="#2f7ae6" stroke-width="8" stroke-linecap="round"/>
<text x="2601.0" y="782.4" font-family="Liberation Serif" font-size="67" text-anchor="start" fill="#000" ><tspan font-style="italic">α</tspan>=20°, <tspan font-style="italic">β</tspan>=30°, <tspan font-style="italic">θ</tspan>=20°</text>
<line x1="2457" y1="837.8" x2="2578" y2="837.8" stroke="#ff1010" stroke-width="8" stroke-linecap="round"/>
<text x="2601.0" y="852.8" font-family="Liberation Serif" font-size="67" text-anchor="start" fill="#000" ><tspan font-style="italic">α</tspan>=20°, <tspan font-style="italic">β</tspan>=20°, <tspan font-style="italic">θ</tspan>=20°</text>
<line x1="2457" y1="914.2" x2="2578" y2="914.2" stroke="#42c224" stroke-width="8" stroke-linecap="round"/>
<text x="2601.0" y="926.6" font-family="Liberation Serif" font-size="67" text-anchor="start" fill="#000" >Reentrant honeycomb</text>
<line x1="2457" y1="972.7" x2="2578" y2="972.7" stroke="#2c0ae6" stroke-width="8" stroke-linecap="round"/>
<text x="2601.0" y="988.4" font-family="Liberation Serif" font-size="67" text-anchor="start" fill="#000" >Star-shaped honeycomb</text>
<g transform="matrix(1,0.34675,0,1,1093,1526.5)">
<clipPath id="cl1"><polygon points="0.0,0.0 385.0,0.0 385.0,140.0 0.0,140.0 0.0,120.0 19.0,77.0 0.0,4.0"/></clipPath>
<g clip-path="url(#cl1)">
<rect x="-5" y="-5" width="395" height="150" fill="#4a90d8"/>
<polygon points="-81.5,122.0 -68.5,82.0 -24.5,55.0 -28.5,94.0" fill="#2a68d8"/>
<polyline points="-10.5,19.0 -84.5,116.0" stroke="#6cb2f0" stroke-width="7" fill="none"/>
<polyline points="10.5,52.0 28.5,122.0" stroke="#6cb2f0" stroke-width="6" fill="none"/>
<polygon points="-85.5,24.0 -16.5,19.0 -30.5,58.0 -69.5,79.0" fill="#1c58cc"/>
<polygon points="0.0,22.0 -15.5,63.0 12.5,52.0" fill="#0b2c80"/>
<polygon points="15.0,122.0 28.0,82.0 72.0,55.0 68.0,94.0" fill="#2a68d8"/>
<polyline points="86.0,19.0 12.0,116.0" stroke="#6cb2f0" stroke-width="7" fill="none"/>
<polyline points="107.0,52.0 125.0,122.0" stroke="#6cb2f0" stroke-width="6" fill="none"/>
<polygon points="11.0,24.0 80.0,19.0 66.0,58.0 27.0,79.0" fill="#1c58cc"/>
<polygon points="96.5,22.0 81.0,63.0 109.0,52.0" fill="#0b2c80"/>
<polygon points="111.5,122.0 124.5,82.0 168.5,55.0 164.5,94.0" fill="#2a68d8"/>
<polyline points="182.5,19.0 108.5,116.0" stroke="#6cb2f0" stroke-width="7" fill="none"/>
<polyline points="203.5,52.0 221.5,122.0" stroke="#6cb2f0" stroke-width="6" fill="none"/>
<polygon points="107.5,24.0 176.5,19.0 162.5,58.0 123.5,79.0" fill="#1c58cc"/>
<polygon points="193.0,22.0 177.5,63.0 205.5,52.0" fill="#0b2c80"/>
<polygon points="208.0,122.0 221.0,82.0 265.0,55.0 261.0,94.0" fill="#2a68d8"/>
<polyline points="279.0,19.0 205.0,116.0" stroke="#6cb2f0" stroke-width="7" fill="none"/>
<polyline points="300.0,52.0 318.0,122.0" stroke="#6cb2f0" stroke-width="6" fill="none"/>
<polygon points="204.0,24.0 273.0,19.0 259.0,58.0 220.0,79.0" fill="#1c58cc"/>
<polygon points="289.5,22.0 274.0,63.0 302.0,52.0" fill="#0b2c80"/>
<polygon points="304.5,122.0 317.5,82.0 361.5,55.0 357.5,94.0" fill="#2a68d8"/>
<polyline points="375.5,19.0 301.5,116.0" stroke="#6cb2f0" stroke-width="7" fill="none"/>
<polyline points="396.5,52.0 414.5,122.0" stroke="#6cb2f0" stroke-width="6" fill="none"/>
<polygon points="300.5,24.0 369.5,19.0 355.5,58.0 316.5,79.0" fill="#1c58cc"/>
<polygon points="386.0,22.0 370.5,63.0 398.5,52.0" fill="#0b2c80"/>
<polygon points="401.0,122.0 414.0,82.0 458.0,55.0 454.0,94.0" fill="#2a68d8"/>
<polyline points="472.0,19.0 398.0,116.0" stroke="#6cb2f0" stroke-width="7" fill="none"/>
<polyline points="493.0,52.0 511.0,122.0" stroke="#6cb2f0" stroke-width="6" fill="none"/>
<polygon points="397.0,24.0 466.0,19.0 452.0,58.0 413.0,79.0" fill="#1c58cc"/>
<polygon points="482.5,22.0 467.0,63.0 495.0,52.0" fill="#0b2c80"/>
</g>
<polygon points="0.0,0.0 385.0,0.0 385.0,19.0 4.5,19.0 0.0,4.0" fill="#4a90d6"/>
<polygon points="0.0,120.0 385.0,120.0 385.0,140.0 0.0,140.0" fill="#4a8fd2"/>
</g>
<g transform="matrix(1,-0.34231,0,1,1478,1660)">
<clipPath id="cr1"><polygon points="0.0,0.0 390.0,0.0 390.0,6.0 369.0,59.0 390.0,120.0 390.0,140.0 0.0,140.0"/></clipPath>
<g clip-path="url(#cr1)">
<rect x="0" y="0" width="390" height="140" fill="#6ebdcd"/>
<rect x="0" y="0" width="390" height="22" fill="#4a8fd4"/>
<rect x="0" y="22" width="390" height="36" fill="#2b4a9c"/>
<polygon points="60.0,22.0 90.0,22.0 82.0,58.0 52.0,58.0" fill="#3d7fc8"/>
<polygon points="157.0,22.0 187.0,22.0 179.0,58.0 149.0,58.0" fill="#3d7fc8"/>
<polygon points="254.0,22.0 284.0,22.0 276.0,58.0 246.0,58.0" fill="#3d7fc8"/>
<polygon points="351.0,22.0 381.0,22.0 373.0,58.0 343.0,58.0" fill="#3d7fc8"/>
<polygon points="448.0,22.0 478.0,22.0 470.0,58.0 440.0,58.0" fill="#3d7fc8"/>
<polygon points="10.0,58.0 35.0,58.0 20.0,118.0 -5.0,118.0" fill="#4a90d0"/>
<polygon points="107.0,58.0 132.0,58.0 117.0,118.0 92.0,118.0" fill="#4a90d0"/>
<polygon points="204.0,58.0 229.0,58.0 214.0,118.0 189.0,118.0" fill="#4a90d0"/>
<polygon points="301.0,58.0 326.0,58.0 311.0,118.0 286.0,118.0" fill="#4a90d0"/>
<polygon points="398.0,58.0 423.0,58.0 408.0,118.0 383.0,118.0" fill="#4a90d0"/>
<rect x="0" y="118" width="390" height="140" fill="#4a8fd0"/>
</g></g>
<polygon points="1478.0,1393.0 1868.0,1526.5 1478.0,1660.0 1093.0,1526.5" fill="#96eed2"/>
<defs><pattern id="pt1" patternUnits="userSpaceOnUse" x="0" y="0" width="256" height="256"><g fill="#a8fee4"><rect x="0" y="0" width="8" height="8"/><rect x="8" y="0" width="8" height="8"/><rect x="16" y="0" width="8" height="8"/><rect x="24" y="0" width="8" height="8"/><rect x="32" y="0" width="8" height="8"/><rect x="40" y="0" width="8" height="8"/><rect x="56" y="0" width="8" height="8"/><rect x="64" y="0" width="8" height="8"/><rect x="72" y="0" width="8" height="8"/><rect x="104" y="0" width="8" height="8"/><rect x="112" y="0" width="8" height="8"/><rect x="128" y="0" width="8" height="8"/><rect x="136" y="0" width="8" height="8"/><rect x="144" y="0" width="8" height="8"/><rect x="232" y="0" width="8" height="8"/><rect x="240" y="0" width="8" height="8"/><rect x="32" y="8" width="8" height="8"/><rect x="40" y="8" width="8" height="8"/><rect x="48" y="8" width="8" height="8"/><rect x="56" y="8" width="8" height="8"/><rect x="104" y="8" width="8" height="8"/><rect x="112" y="8" width="8" height="8"/><rect x="128" y="8" width="8" height="8"/><rect x="136" y="8" width="8" height="8"/><rect x="168" y="8" width="8" height="8"/><rect x="176" y="8" width="8" height="8"/><rect x="200" y="8" width="8" height="8"/><rect x="240" y="8" width="8" height="8"/><rect x="248" y="8" width="8" height="8"/><rect x="32" y="16" width="8" height="8"/><rect x="40" y="16" width="8" height="8"/><rect x="48" y="16" width="8" height="8"/><rect x="128" y="16" width="8" height="8"/><rect x="136" y="16" width="8" height="8"/><rect x="152" y="16" width="8" height="8"/><rect x="160" y="16" width="8" height="8"/><rect x="176" y="16" width="8" height="8"/><rect x="200" y="16" width="8" height="8"/><rect x="32" y="24" width="8" height="8"/><rect x="40" y="24" width="8" height="8"/><rect x="48" y="24" width="8" height="8"/><rect x="56" y="24" width="8" height="8"/><rect x="64" y="24" width="8" height="8"/><rect x="72" y="24" width="8" height="8"/><rect x="96" y="24" width="8" height="8"/><rect x="104" y="24" width="8" height="8"/><rect x="128" y="24" width="8" height="8"/><rect x="136" y="24" width="8" height="8"/><rect x="152" y="24" width="8" height="8"/><rect x="160" y="24" width="8" height="8"/><rect x="168" y="24" width="8" height="8"/><rect x="200" y="24" width="8" height="8"/><rect x="224" y="24" width="8" height="8"/><rect x="232" y="24" width="8" height="8"/><rect x="40" y="32" width="8" height="8"/><rect x="48" y="32" width="8" height="8"/><rect x="56" y="32" width="8" height="8"/><rect x="64" y="32" width="8" height="8"/><rect x="152" y="32" width="8" height="8"/><rect x="160" y="32" width="8" height="8"/><rect x="168" y="32" width="8" height="8"/><rect x="176" y="32" width="8" height="8"/><rect x="216" y="32" width="8" height="8"/><rect x="224" y="32" width="8" height="8"/><rect x="232" y="32" width="8" height="8"/><rect x="8" y="40" width="8" height="8"/><rect x="24" y="40" width="8" height="8"/><rect x="40" y="40" width="8" height="8"/><rect x="48" y="40" width="8" height="8"/><rect x="56" y="40" width="8" height="8"/><rect x="64" y="40" width="8" height="8"/><rect x="72" y="40" width="8" height="8"/><rect x="80" y="40" width="8" height="8"/><rect x="88" y="40" width="8" height="8"/><rect x="112" y="40" width="8" height="8"/><rect x="120" y="40" width="8" height="8"/><rect x="128" y="40" width="8" height="8"/><rect x="136" y="40" width="8" height="8"/><rect x="144" y="40" width="8" height="8"/><rect x="152" y="40" width="8" height="8"/><rect x="160" y="40" width="8" height="8"/><rect x="168" y="40" width="8" height="8"/><rect x="176" y="40" width="8" height="8"/><rect x="184" y="40" width="8" height="8"/><rect x="208" y="40" width="8" height="8"/><rect x="216" y="40" width="8" height="8"/><rect x="224" y="40" width="8" height="8"/><rect x="232" y="40" width="8" height="8"/><rect x="248" y="40" width="8" height="8"/><rect x="8" y="48" width="8" height="8"/><rect x="24" y="48" width="8" height="8"/><rect x="40" y="48" width="8" height="8"/><rect x="64" y="48" width="8" height="8"/><rect x="72" y="48" width="8" height="8"/><rect x="80" y="48" width="8" height="8"/><rect x="88" y="48" width="8" height="8"/><rect x="120" y="48" width="8" height="8"/><rect x="144" y="48" width="8" height="8"/><rect x="152" y="48" width="8" height="8"/><rect x="160" y="48" width="8" height="8"/><rect x="176" y="48" width="8" height="8"/><rect x="200" y="48" width="8" height="8"/><rect x="208" y="48" width="8" height="8"/><rect x="216" y="48" width="8" height="8"/><rect x="224" y="48" width="8" height="8"/><rect x="240" y="48" width="8" height="8"/><rect x="16" y="56" width="8" height="8"/><rect x="24" y="56" width="8" height="8"/><rect x="32" y="56" width="8" height="8"/><rect x="40" y="56" width="8" height="8"/><rect x="120" y="56" width="8" height="8"/><rect x="128" y="56" width="8" height="8"/><rect x="168" y="56" width="8" height="8"/><rect x="184" y="56" width="8" height="8"/><rect x="240" y="56" width="8" height="8"/><rect x="16" y="64" width="8" height="8"/><rect x="24" y="64" width="8" height="8"/><rect x="32" y="64" width="8" height="8"/><rect x="40" y="64" width="8" height="8"/><rect x="48" y="64" width="8" height="8"/><rect x="56" y="64" width="8" height="8"/><rect x="64" y="64" width="8" height="8"/><rect x="112" y="64" width="8" height="8"/><rect x="120" y="64" width="8" height="8"/><rect x="152" y="64" width="8" height="8"/><rect x="160" y="64" width="8" height="8"/><rect x="176" y="64" width="8" height="8"/><rect x="184" y="64" width="8" height="8"/><rect x="192" y="64" width="8" height="8"/><rect x="200" y="64" width="8" height="8"/><rect x="208" y="64" width="8" height="8"/><rect x="240" y="64" width="8" height="8"/><rect x="8" y="72" width="8" height="8"/><rect x="16" y="72" width="8" height="8"/><rect x="24" y="72" width="8" height="8"/><rect x="32" y="72" width="8" height="8"/><rect x="40" y="72" width="8" height="8"/><rect x="48" y="72" width="8" height="8"/><rect x="56" y="72" width="8" height="8"/><rect x="64" y="72" width="8" height="8"/><rect x="72" y="72" width="8" height="8"/><rect x="80" y="72" width="8" height="8"/><rect x="104" y="72" width="8" height="8"/><rect x="112" y="72" width="8" height="8"/><rect x="120" y="72" width="8" height="8"/><rect x="128" y="72" width="8" height="8"/><rect x="136" y="72" width="8" height="8"/><rect x="144" y="72" width="8" height="8"/><rect x="152" y="72" width="8" height="8"/><rect x="160" y="72" width="8" height="8"/><rect x="184" y="72" width="8" height="8"/><rect x="192" y="72" width="8" height="8"/><rect x="200" y="72" width="8" height="8"/><rect x="208" y="72" width="8" height="8"/><rect x="32" y="80" width="8" height="8"/><rect x="40" y="80" width="8" height="8"/><rect x="48" y="80" width="8" height="8"/><rect x="56" y="80" width="8" height="8"/><rect x="64" y="80" width="8" height="8"/><rect x="72" y="80" width="8" height="8"/><rect x="80" y="80" width="8" height="8"/><rect x="104" y="80" width="8" height="8"/><rect x="120" y="80" width="8" height="8"/><rect x="128" y="80" width="8" height="8"/><rect x="136" y="80" width="8" height="8"/><rect x="144" y="80" width="8" height="8"/><rect x="152" y="80" width="8" height="8"/><rect x="176" y="80" width="8" height="8"/><rect x="184" y="80" width="8" height="8"/><rect x="192" y="80" width="8" height="8"/><rect x="200" y="80" width="8" height="8"/><rect x="208" y="80" width="8" height="8"/><rect x="240" y="80" width="8" height="8"/><rect x="24" y="88" width="8" height="8"/><rect x="40" y="88" width="8" height="8"/><rect x="48" y="88" width="8" height="8"/><rect x="56" y="88" width="8" height="8"/><rect x="64" y="88" width="8" height="8"/><rect x="96" y="88" width="8" height="8"/><rect x="104" y="88" width="8" height="8"/><rect x="144" y="88" width="8" height="8"/><rect x="152" y="88" width="8" height="8"/><rect x="160" y="88" width="8" height="8"/><rect x="184" y="88" width="8" height="8"/><rect x="192" y="88" width="8" height="8"/><rect x="200" y="88" width="8" height="8"/><rect x="240" y="88" width="8" height="8"/><rect x="96" y="96" width="8" height="8"/><rect x="136" y="96" width="8" height="8"/><rect x="144" y="96" width="8" height="8"/><rect x="152" y="96" width="8" height="8"/><rect x="160" y="96" width="8" height="8"/><rect x="184" y="96" width="8" height="8"/><rect x="192" y="96" width="8" height="8"/><rect x="208" y="96" width="8" height="8"/><rect x="232" y="96" width="8" height="8"/><rect x="240" y="96" width="8" height="8"/><rect x="0" y="104" width="8" height="8"/><rect x="40" y="104" width="8" height="8"/><rect x="96" y="104" width="8" height="8"/><rect x="104" y="104" width="8" height="8"/><rect x="112" y="104" width="8" height="8"/><rect x="128" y="104" width="8" height="8"/><rect x="136" y="104" width="8" height="8"/><rect x="144" y="104" width="8" height="8"/><rect x="192" y="104" width="8" height="8"/><rect x="200" y="104" width="8" height="8"/><rect x="240" y="104" width="8" height="8"/><rect x="248" y="104" width="8" height="8"/><rect x="0" y="112" width="8" height="8"/><rect x="24" y="112" width="8" height="8"/><rect x="32" y="112" width="8" height="8"/><rect x="40" y="112" width="8" height="8"/><rect x="48" y="112" width="8" height="8"/><rect x="72" y="112" width="8" height="8"/><rect x="96" y="112" width="8" height="8"/><rect x="104" y="112" width="8" height="8"/><rect x="176" y="112" width="8" height="8"/><rect x="184" y="112" width="8" height="8"/><rect x="192" y="112" width="8" height="8"/><rect x="200" y="112" width="8" height="8"/><rect x="208" y="112" width="8" height="8"/><rect x="224" y="112" width="8" height="8"/><rect x="232" y="112" width="8" height="8"/><rect x="240" y="112" width="8" height="8"/><rect x="248" y="112" width="8" height="8"/><rect x="0" y="120" width="8" height="8"/><rect x="16" y="120" width="8" height="8"/><rect x="24" y="120" width="8" height="8"/><rect x="32" y="120" width="8" height="8"/><rect x="40" y="120" width="8" height="8"/><rect x="48" y="120" width="8" height="8"/><rect x="56" y="120" width="8" height="8"/><rect x="64" y="120" width="8" height="8"/><rect x="72" y="120" width="8" height="8"/><rect x="80" y="120" width="8" height="8"/><rect x="88" y="120" width="8" height="8"/><rect x="96" y="120" width="8" height="8"/><rect x="144" y="120" width="8" height="8"/><rect x="160" y="120" width="8" height="8"/><rect x="168" y="120" width="8" height="8"/><rect x="176" y="120" width="8" height="8"/><rect x="184" y="120" width="8" height="8"/><rect x="200" y="120" width="8" height="8"/><rect x="216" y="120" width="8" height="8"/><rect x="224" y="120" width="8" height="8"/><rect x="232" y="120" width="8" height="8"/><rect x="240" y="120" width="8" height="8"/><rect x="248" y="120" width="8" height="8"/><rect x="0" y="128" width="8" height="8"/><rect x="8" y="128" width="8" height="8"/><rect x="24" y="128" width="8" height="8"/><rect x="32" y="128" width="8" height="8"/><rect x="96" y="128" width="8" height="8"/><rect x="104" y="128" width="8" height="8"/><rect x="112" y="128" width="8" height="8"/><rect x="120" y="128" width="8" height="8"/><rect x="128" y="128" width="8" height="8"/><rect x="136" y="128" width="8" height="8"/><rect x="144" y="128" width="8" height="8"/><rect x="152" y="128" width="8" height="8"/><rect x="168" y="128" width="8" height="8"/><rect x="192" y="128" width="8" height="8"/><rect x="224" y="128" width="8" height="8"/><rect x="240" y="128" width="8" height="8"/><rect x="248" y="128" width="8" height="8"/><rect x="0" y="136" width="8" height="8"/><rect x="112" y="136" width="8" height="8"/><rect x="120" y="136" width="8" height="8"/><rect x="128" y="136" width="8" height="8"/><rect x="136" y="136" width="8" height="8"/><rect x="144" y="136" width="8" height="8"/><rect x="152" y="136" width="8" height="8"/><rect x="168" y="136" width="8" height="8"/><rect x="184" y="136" width="8" height="8"/><rect x="192" y="136" width="8" height="8"/><rect x="216" y="136" width="8" height="8"/><rect x="224" y="136" width="8" height="8"/><rect x="232" y="136" width="8" height="8"/><rect x="240" y="136" width="8" height="8"/><rect x="248" y="136" width="8" height="8"/><rect x="104" y="144" width="8" height="8"/><rect x="112" y="144" width="8" height="8"/><rect x="120" y="144" width="8" height="8"/><rect x="128" y="144" width="8" height="8"/><rect x="136" y="144" width="8" height="8"/><rect x="144" y="144" width="8" height="8"/><rect x="168" y="144" width="8" height="8"/><rect x="176" y="144" width="8" height="8"/><rect x="192" y="144" width="8" height="8"/><rect x="208" y="144" width="8" height="8"/><rect x="216" y="144" width="8" height="8"/><rect x="224" y="144" width="8" height="8"/><rect x="232" y="144" width="8" height="8"/><rect x="240" y="144" width="8" height="8"/><rect x="8" y="152" width="8" height="8"/><rect x="16" y="152" width="8" height="8"/><rect x="24" y="152" width="8" height="8"/><rect x="112" y="152" width="8" height="8"/><rect x="128" y="152" width="8" height="8"/><rect x="168" y="152" width="8" height="8"/><rect x="200" y="152" width="8" height="8"/><rect x="208" y="152" width="8" height="8"/><rect x="240" y="152" width="8" height="8"/><rect x="0" y="160" width="8" height="8"/><rect x="8" y="160" width="8" height="8"/><rect x="16" y="160" width="8" height="8"/><rect x="24" y="160" width="8" height="8"/><rect x="32" y="160" width="8" height="8"/><rect x="40" y="160" width="8" height="8"/><rect x="104" y="160" width="8" height="8"/><rect x="184" y="160" width="8" height="8"/><rect x="240" y="160" width="8" height="8"/><rect x="248" y="160" width="8" height="8"/><rect x="0" y="168" width="8" height="8"/><rect x="8" y="168" width="8" height="8"/><rect x="16" y="168" width="8" height="8"/><rect x="24" y="168" width="8" height="8"/><rect x="32" y="168" width="8" height="8"/><rect x="56" y="168" width="8" height="8"/><rect x="64" y="168" width="8" height="8"/><rect x="72" y="168" width="8" height="8"/><rect x="144" y="168" width="8" height="8"/><rect x="152" y="168" width="8" height="8"/><rect x="160" y="168" width="8" height="8"/><rect x="184" y="168" width="8" height="8"/><rect x="192" y="168" width="8" height="8"/><rect x="224" y="168" width="8" height="8"/><rect x="232" y="168" width="8" height="8"/><rect x="240" y="168" width="8" height="8"/><rect x="248" y="168" width="8" height="8"/><rect x="0" y="176" width="8" height="8"/><rect x="8" y="176" width="8" height="8"/><rect x="16" y="176" width="8" height="8"/><rect x="24" y="176" width="8" height="8"/><rect x="48" y="176" width="8" height="8"/><rect x="56" y="176" width="8" height="8"/><rect x="88" y="176" width="8" height="8"/><rect x="136" y="176" width="8" height="8"/><rect x="160" y="176" width="8" height="8"/><rect x="168" y="176" width="8" height="8"/><rect x="176" y="176" width="8" height="8"/><rect x="184" y="176" width="8" height="8"/><rect x="192" y="176" width="8" height="8"/><rect x="200" y="176" width="8" height="8"/><rect x="208" y="176" width="8" height="8"/><rect x="216" y="176" width="8" height="8"/><rect x="224" y="176" width="8" height="8"/><rect x="232" y="176" width="8" height="8"/><rect x="240" y="176" width="8" height="8"/><rect x="248" y="176" width="8" height="8"/><rect x="0" y="184" width="8" height="8"/><rect x="8" y="184" width="8" height="8"/><rect x="16" y="184" width="8" height="8"/><rect x="24" y="184" width="8" height="8"/><rect x="48" y="184" width="8" height="8"/><rect x="56" y="184" width="8" height="8"/><rect x="80" y="184" width="8" height="8"/><rect x="88" y="184" width="8" height="8"/><rect x="136" y="184" width="8" height="8"/><rect x="168" y="184" width="8" height="8"/><rect x="176" y="184" width="8" height="8"/><rect x="208" y="184" width="8" height="8"/><rect x="216" y="184" width="8" height="8"/><rect x="8" y="192" width="8" height="8"/><rect x="16" y="192" width="8" height="8"/><rect x="64" y="192" width="8" height="8"/><rect x="80" y="192" width="8" height="8"/><rect x="88" y="192" width="8" height="8"/><rect x="104" y="192" width="8" height="8"/><rect x="112" y="192" width="8" height="8"/><rect x="120" y="192" width="8" height="8"/><rect x="136" y="192" width="8" height="8"/><rect x="168" y="192" width="8" height="8"/><rect x="176" y="192" width="8" height="8"/><rect x="208" y="192" width="8" height="8"/><rect x="216" y="192" width="8" height="8"/><rect x="224" y="192" width="8" height="8"/><rect x="8" y="200" width="8" height="8"/><rect x="16" y="200" width="8" height="8"/><rect x="56" y="200" width="8" height="8"/><rect x="64" y="200" width="8" height="8"/><rect x="72" y="200" width="8" height="8"/><rect x="80" y="200" width="8" height="8"/><rect x="88" y="200" width="8" height="8"/><rect x="136" y="200" width="8" height="8"/><rect x="144" y="200" width="8" height="8"/><rect x="152" y="200" width="8" height="8"/><rect x="200" y="200" width="8" height="8"/><rect x="208" y="200" width="8" height="8"/><rect x="216" y="200" width="8" height="8"/><rect x="224" y="200" width="8" height="8"/><rect x="232" y="200" width="8" height="8"/><rect x="96" y="208" width="8" height="8"/><rect x="104" y="208" width="8" height="8"/><rect x="144" y="208" width="8" height="8"/><rect x="152" y="208" width="8" height="8"/><rect x="160" y="208" width="8" height="8"/><rect x="168" y="208" width="8" height="8"/><rect x="192" y="208" width="8" height="8"/><rect x="232" y="208" width="8" height="8"/><rect x="240" y="208" width="8" height="8"/><rect x="0" y="216" width="8" height="8"/><rect x="56" y="216" width="8" height="8"/><rect x="88" y="216" width="8" height="8"/><rect x="96" y="216" width="8" height="8"/><rect x="104" y="216" width="8" height="8"/><rect x="112" y="216" width="8" height="8"/><rect x="120" y="216" width="8" height="8"/><rect x="168" y="216" width="8" height="8"/><rect x="192" y="216" width="8" height="8"/><rect x="0" y="224" width="8" height="8"/><rect x="8" y="224" width="8" height="8"/><rect x="16" y="224" width="8" height="8"/><rect x="24" y="224" width="8" height="8"/><rect x="32" y="224" width="8" height="8"/><rect x="40" y="224" width="8" height="8"/><rect x="88" y="224" width="8" height="8"/><rect x="96" y="224" width="8" height="8"/><rect x="104" y="224" width="8" height="8"/><rect x="112" y="224" width="8" height="8"/><rect x="120" y="224" width="8" height="8"/><rect x="184" y="224" width="8" height="8"/><rect x="192" y="224" width="8" height="8"/><rect x="216" y="224" width="8" height="8"/><rect x="224" y="224" width="8" height="8"/><rect x="248" y="224" width="8" height="8"/><rect x="8" y="232" width="8" height="8"/><rect x="16" y="232" width="8" height="8"/><rect x="24" y="232" width="8" height="8"/><rect x="32" y="232" width="8" height="8"/><rect x="40" y="232" width="8" height="8"/><rect x="56" y="232" width="8" height="8"/><rect x="96" y="232" width="8" height="8"/><rect x="104" y="232" width="8" height="8"/><rect x="112" y="232" width="8" height="8"/><rect x="120" y="232" width="8" height="8"/><rect x="168" y="232" width="8" height="8"/><rect x="176" y="232" width="8" height="8"/><rect x="184" y="232" width="8" height="8"/><rect x="192" y="232" width="8" height="8"/><rect x="208" y="232" width="8" height="8"/><rect x="216" y="232" width="8" height="8"/><rect x="224" y="232" width="8" height="8"/><rect x="8" y="240" width="8" height="8"/><rect x="16" y="240" width="8" height="8"/><rect x="24" y="240" width="8" height="8"/><rect x="32" y="240" width="8" height="8"/><rect x="80" y="240" width="8" height="8"/><rect x="88" y="240" width="8" height="8"/><rect x="96" y="240" width="8" height="8"/><rect x="104" y="240" width="8" height="8"/><rect x="112" y="240" width="8" height="8"/><rect x="120" y="240" width="8" height="8"/><rect x="136" y="240" width="8" height="8"/><rect x="216" y="240" width="8" height="8"/><rect x="224" y="240" width="8" height="8"/><rect x="8" y="248" width="8" height="8"/><rect x="16" y="248" width="8" height="8"/><rect x="24" y="248" width="8" height="8"/><rect x="32" y="248" width="8" height="8"/><rect x="56" y="248" width="8" height="8"/><rect x="64" y="248" width="8" height="8"/><rect x="72" y="248" width="8" height="8"/><rect x="80" y="248" width="8" height="8"/><rect x="88" y="248" width="8" height="8"/><rect x="96" y="248" width="8" height="8"/><rect x="104" y="248" width="8" height="8"/><rect x="112" y="248" width="8" height="8"/><rect x="128" y="248" width="8" height="8"/><rect x="136" y="248" width="8" height="8"/><rect x="144" y="248" width="8" height="8"/><rect x="192" y="248" width="8" height="8"/><rect x="200" y="248" width="8" height="8"/><rect x="208" y="248" width="8" height="8"/><rect x="216" y="248" width="8" height="8"/><rect x="224" y="248" width="8" height="8"/><rect x="232" y="248" width="8" height="8"/></g></pattern></defs>
<polygon points="1478.0,1393.0 1868.0,1526.5 1478.0,1660.0 1093.0,1526.5" fill="url(#pt1)"/>
<polyline points="1093.0,1526.5 1478.0,1660.0 1868.0,1526.5" fill="none" stroke="#a0f4ff" stroke-width="3"/>
<g transform="matrix(1,0.35144,0,1,1910,1524.5)">
<clipPath id="cl2"><polygon points="0.0,0.0 388.4,0.0 388.4,140.0 0.0,140.0 0.0,120.0 19.0,77.0 0.0,4.0"/></clipPath>
<g clip-path="url(#cl2)">
<rect x="-5" y="-5" width="398.4000000000001" height="150" fill="#b01e4c"/>
<polygon points="-81.5,122.0 -68.5,82.0 -24.5,55.0 -28.5,94.0" fill="#c63a64"/>
<polyline points="-10.5,19.0 -84.5,116.0" stroke="#8e2a4c" stroke-width="7" fill="none"/>
<polyline points="10.5,52.0 28.5,122.0" stroke="#8e2a4c" stroke-width="6" fill="none"/>
<polygon points="-85.5,24.0 -16.5,19.0 -30.5,58.0 -69.5,79.0" fill="#6e0f2d"/>
<polygon points="0.0,22.0 -15.5,63.0 12.5,52.0" fill="#56081e"/>
<polygon points="15.0,122.0 28.0,82.0 72.0,55.0 68.0,94.0" fill="#c63a64"/>
<polyline points="86.0,19.0 12.0,116.0" stroke="#8e2a4c" stroke-width="7" fill="none"/>
<polyline points="107.0,52.0 125.0,122.0" stroke="#8e2a4c" stroke-width="6" fill="none"/>
<polygon points="11.0,24.0 80.0,19.0 66.0,58.0 27.0,79.0" fill="#6e0f2d"/>
<polygon points="96.5,22.0 81.0,63.0 109.0,52.0" fill="#56081e"/>
<polygon points="111.5,122.0 124.5,82.0 168.5,55.0 164.5,94.0" fill="#c63a64"/>
<polyline points="182.5,19.0 108.5,116.0" stroke="#8e2a4c" stroke-width="7" fill="none"/>
<polyline points="203.5,52.0 221.5,122.0" stroke="#8e2a4c" stroke-width="6" fill="none"/>
<polygon points="107.5,24.0 176.5,19.0 162.5,58.0 123.5,79.0" fill="#6e0f2d"/>
<polygon points="193.0,22.0 177.5,63.0 205.5,52.0" fill="#56081e"/>
<polygon points="208.0,122.0 221.0,82.0 265.0,55.0 261.0,94.0" fill="#c63a64"/>
<polyline points="279.0,19.0 205.0,116.0" stroke="#8e2a4c" stroke-width="7" fill="none"/>
<polyline points="300.0,52.0 318.0,122.0" stroke="#8e2a4c" stroke-width="6" fill="none"/>
<polygon points="204.0,24.0 273.0,19.0 259.0,58.0 220.0,79.0" fill="#6e0f2d"/>
<polygon points="289.5,22.0 274.0,63.0 302.0,52.0" fill="#56081e"/>
<polygon points="304.5,122.0 317.5,82.0 361.5,55.0 357.5,94.0" fill="#c63a64"/>
<polyline points="375.5,19.0 301.5,116.0" stroke="#8e2a4c" stroke-width="7" fill="none"/>
<polyline points="396.5,52.0 414.5,122.0" stroke="#8e2a4c" stroke-width="6" fill="none"/>
<polygon points="300.5,24.0 369.5,19.0 355.5,58.0 316.5,79.0" fill="#6e0f2d"/>
<polygon points="386.0,22.0 370.5,63.0 398.5,52.0" fill="#56081e"/>
<polygon points="401.0,122.0 414.0,82.0 458.0,55.0 454.0,94.0" fill="#c63a64"/>
<polyline points="472.0,19.0 398.0,116.0" stroke="#8e2a4c" stroke-width="7" fill="none"/>
<polyline points="493.0,52.0 511.0,122.0" stroke="#8e2a4c" stroke-width="6" fill="none"/>
<polygon points="397.0,24.0 466.0,19.0 452.0,58.0 413.0,79.0" fill="#6e0f2d"/>
<polygon points="482.5,22.0 467.0,63.0 495.0,52.0" fill="#56081e"/>
</g>
<polygon points="0.0,0.0 388.4,0.0 388.4,19.0 4.5,19.0 0.0,4.0" fill="#9a3274"/>
<polygon points="0.0,120.0 388.4,120.0 388.4,140.0 0.0,140.0" fill="#a03068"/>
</g>
<g transform="matrix(1,-0.35308,0,1,2298.4,1661)">
<clipPath id="cr2"><polygon points="0.0,0.0 386.6,0.0 386.6,6.0 365.6,59.0 386.6,120.0 386.6,140.0 0.0,140.0"/></clipPath>
<g clip-path="url(#cr2)">
<rect x="0" y="0" width="386.5999999999999" height="140" fill="#b42858"/>
<rect x="0" y="0" width="386.5999999999999" height="24" fill="#b42858"/>
<rect x="0" y="24" width="386.5999999999999" height="28" fill="#842044"/>
<polygon points="10.0,52.0 35.0,52.0 20.0,118.0 -5.0,118.0" fill="#c43c68"/>
<polygon points="107.0,52.0 132.0,52.0 117.0,118.0 92.0,118.0" fill="#c43c68"/>
<polygon points="204.0,52.0 229.0,52.0 214.0,118.0 189.0,118.0" fill="#c43c68"/>
<polygon points="301.0,52.0 326.0,52.0 311.0,118.0 286.0,118.0" fill="#c43c68"/>
<polygon points="398.0,52.0 423.0,52.0 408.0,118.0 383.0,118.0" fill="#c43c68"/>
<rect x="0" y="118" width="386.5999999999999" height="140" fill="#b02656"/>
</g></g>
<polygon points="2298.4,1392.0 2685.0,1524.5 2298.4,1661.0 1910.0,1524.5" fill="#ee5eb8"/>
<g transform="matrix(1,0.34065,0,1,1094.5,2120)">
<clipPath id="cl3"><polygon points="0.0,0.0 387.5,0.0 387.5,141.0 0.0,141.0 0.0,120.0 19.0,77.0 0.0,4.0"/></clipPath>
<g clip-path="url(#cl3)">
<rect x="-5" y="-5" width="397.5" height="151" fill="#46be1c"/>
<polygon points="-54.5,26.0 -23.5,15.0 -23.5,46.0 -54.5,57.0" fill="#5a8c04"/>
<polygon points="-71.5,71.0 -38.5,60.0 -38.5,99.0 -71.5,110.0" fill="#3f7612"/>
<polygon points="-22.5,70.0 8.5,59.0 8.5,84.0 -22.5,95.0" fill="#5a8c04"/>
<polygon points="-1.0,22.5 -16.0,60.0 9.0,51.6" fill="#17500f"/>
<polyline points="-1.0,20.0 -19.5,62.0 -34.5,112.0" stroke="#62d834" stroke-width="5" fill="none"/>
<polyline points="0.5,20.0 15.5,52.0 28.5,100.0" stroke="#62d834" stroke-width="5" fill="none"/>
<polygon points="42.0,26.0 73.0,15.0 73.0,46.0 42.0,57.0" fill="#5a8c04"/>
<polygon points="25.0,71.0 58.0,60.0 58.0,99.0 25.0,110.0" fill="#3f7612"/>
<polygon points="74.0,70.0 105.0,59.0 105.0,84.0 74.0,95.0" fill="#5a8c04"/>
<polygon points="95.5,22.5 80.5,60.0 105.5,51.6" fill="#17500f"/>
<polyline points="95.5,20.0 77.0,62.0 62.0,112.0" stroke="#62d834" stroke-width="5" fill="none"/>
<polyline points="97.0,20.0 112.0,52.0 125.0,100.0" stroke="#62d834" stroke-width="5" fill="none"/>
<polygon points="138.5,26.0 169.5,15.0 169.5,46.0 138.5,57.0" fill="#5a8c04"/>
<polygon points="121.5,71.0 154.5,60.0 154.5,99.0 121.5,110.0" fill="#3f7612"/>
<polygon points="170.5,70.0 201.5,59.0 201.5,84.0 170.5,95.0" fill="#5a8c04"/>
<polygon points="192.0,22.5 177.0,60.0 202.0,51.6" fill="#17500f"/>
<polyline points="192.0,20.0 173.5,62.0 158.5,112.0" stroke="#62d834" stroke-width="5" fill="none"/>
<polyline points="193.5,20.0 208.5,52.0 221.5,100.0" stroke="#62d834" stroke-width="5" fill="none"/>
<polygon points="235.0,26.0 266.0,15.0 266.0,46.0 235.0,57.0" fill="#5a8c04"/>
<polygon points="218.0,71.0 251.0,60.0 251.0,99.0 218.0,110.0" fill="#3f7612"/>
<polygon points="267.0,70.0 298.0,59.0 298.0,84.0 267.0,95.0" fill="#5a8c04"/>
<polygon points="288.5,22.5 273.5,60.0 298.5,51.6" fill="#17500f"/>
<polyline points="288.5,20.0 270.0,62.0 255.0,112.0" stroke="#62d834" stroke-width="5" fill="none"/>
<polyline points="290.0,20.0 305.0,52.0 318.0,100.0" stroke="#62d834" stroke-width="5" fill="none"/>
<polygon points="331.5,26.0 362.5,15.0 362.5,46.0 331.5,57.0" fill="#5a8c04"/>
<polygon points="314.5,71.0 347.5,60.0 347.5,99.0 314.5,110.0" fill="#3f7612"/>
<polygon points="363.5,70.0 394.5,59.0 394.5,84.0 363.5,95.0" fill="#5a8c04"/>
<polygon points="385.0,22.5 370.0,60.0 395.0,51.6" fill="#17500f"/>
<polyline points="385.0,20.0 366.5,62.0 351.5,112.0" stroke="#62d834" stroke-width="5" fill="none"/>
<polyline points="386.5,20.0 401.5,52.0 414.5,100.0" stroke="#62d834" stroke-width="5" fill="none"/>
<polygon points="428.0,26.0 459.0,15.0 459.0,46.0 428.0,57.0" fill="#5a8c04"/>
<polygon points="411.0,71.0 444.0,60.0 444.0,99.0 411.0,110.0" fill="#3f7612"/>
<polygon points="460.0,70.0 491.0,59.0 491.0,84.0 460.0,95.0" fill="#5a8c04"/>
<polygon points="481.5,22.5 466.5,60.0 491.5,51.6" fill="#17500f"/>
<polyline points="481.5,20.0 463.0,62.0 448.0,112.0" stroke="#62d834" stroke-width="5" fill="none"/>
<polyline points="483.0,20.0 498.0,52.0 511.0,100.0" stroke="#62d834" stroke-width="5" fill="none"/>
</g>
<polygon points="0.0,0.0 387.5,0.0 387.5,19.0 4.5,19.0 0.0,4.0" fill="#55cc28"/>
<polygon points="0.0,120.0 387.5,120.0 387.5,141.0 0.0,141.0" fill="#5ad22e"/>
</g>
<g transform="matrix(1,-0.34367,0,1,1482,2252)">
<clipPath id="cr3"><polygon points="0.0,0.0 387.0,0.0 387.0,6.0 366.0,59.0 387.0,120.0 387.0,141.0 0.0,141.0"/></clipPath>
<g clip-path="url(#cr3)">
<rect x="0" y="0" width="387" height="141" fill="#86f050"/>
<rect x="0" y="0" width="387" height="20" fill="#55cc28"/>
<rect x="0" y="20" width="387" height="37" fill="#427e0c"/>
<rect x="0" y="113" width="387" height="141" fill="#55cc28"/>
</g></g>
<polygon points="1481.4,1986.3 1869.0,2119.0 1482.0,2252.0 1094.5,2120.0" fill="#97fe5b"/>
<g transform="matrix(1,0.34197,0,1,1900,2136)">
<clipPath id="cl4"><polygon points="0.0,0.0 386.0,0.0 386.0,140.0 0.0,140.0 0.0,120.0 19.0,77.0 0.0,4.0"/></clipPath>
<g clip-path="url(#cl4)">
<rect x="-5" y="-5" width="396" height="150" fill="#7838f5"/>
<polygon points="-81.5,122.0 -68.5,82.0 -24.5,55.0 -28.5,94.0" fill="#5010d8"/>
<polyline points="-10.5,19.0 -84.5,116.0" stroke="#8c48fc" stroke-width="7" fill="none"/>
<polyline points="10.5,52.0 28.5,122.0" stroke="#8c48fc" stroke-width="6" fill="none"/>
<polygon points="-85.5,24.0 -16.5,19.0 -30.5,58.0 -69.5,79.0" fill="#6428e6"/>
<polygon points="0.0,22.0 -15.5,63.0 12.5,52.0" fill="#3c0a8c"/>
<polygon points="15.0,122.0 28.0,82.0 72.0,55.0 68.0,94.0" fill="#5010d8"/>
<polyline points="86.0,19.0 12.0,116.0" stroke="#8c48fc" stroke-width="7" fill="none"/>
<polyline points="107.0,52.0 125.0,122.0" stroke="#8c48fc" stroke-width="6" fill="none"/>
<polygon points="11.0,24.0 80.0,19.0 66.0,58.0 27.0,79.0" fill="#6428e6"/>
<polygon points="96.5,22.0 81.0,63.0 109.0,52.0" fill="#3c0a8c"/>
<polygon points="111.5,122.0 124.5,82.0 168.5,55.0 164.5,94.0" fill="#5010d8"/>
<polyline points="182.5,19.0 108.5,116.0" stroke="#8c48fc" stroke-width="7" fill="none"/>
<polyline points="203.5,52.0 221.5,122.0" stroke="#8c48fc" stroke-width="6" fill="none"/>
<polygon points="107.5,24.0 176.5,19.0 162.5,58.0 123.5,79.0" fill="#6428e6"/>
<polygon points="193.0,22.0 177.5,63.0 205.5,52.0" fill="#3c0a8c"/>
<polygon points="208.0,122.0 221.0,82.0 265.0,55.0 261.0,94.0" fill="#5010d8"/>
<polyline points="279.0,19.0 205.0,116.0" stroke="#8c48fc" stroke-width="7" fill="none"/>
<polyline points="300.0,52.0 318.0,122.0" stroke="#8c48fc" stroke-width="6" fill="none"/>
<polygon points="204.0,24.0 273.0,19.0 259.0,58.0 220.0,79.0" fill="#6428e6"/>
<polygon points="289.5,22.0 274.0,63.0 302.0,52.0" fill="#3c0a8c"/>
<polygon points="304.5,122.0 317.5,82.0 361.5,55.0 357.5,94.0" fill="#5010d8"/>
<polyline points="375.5,19.0 301.5,116.0" stroke="#8c48fc" stroke-width="7" fill="none"/>
<polyline points="396.5,52.0 414.5,122.0" stroke="#8c48fc" stroke-width="6" fill="none"/>
<polygon points="300.5,24.0 369.5,19.0 355.5,58.0 316.5,79.0" fill="#6428e6"/>
<polygon points="386.0,22.0 370.5,63.0 398.5,52.0" fill="#3c0a8c"/>
<polygon points="401.0,122.0 414.0,82.0 458.0,55.0 454.0,94.0" fill="#5010d8"/>
<polyline points="472.0,19.0 398.0,116.0" stroke="#8c48fc" stroke-width="7" fill="none"/>
<polyline points="493.0,52.0 511.0,122.0" stroke="#8c48fc" stroke-width="6" fill="none"/>
<polygon points="397.0,24.0 466.0,19.0 452.0,58.0 413.0,79.0" fill="#6428e6"/>
<polygon points="482.5,22.0 467.0,63.0 495.0,52.0" fill="#3c0a8c"/>
</g>
<polygon points="0.0,0.0 386.0,0.0 386.0,19.0 4.5,19.0 0.0,4.0" fill="#8a44fc"/>
<polygon points="0.0,120.0 386.0,120.0 386.0,140.0 0.0,140.0" fill="#8c48fa"/>
</g>
<g transform="matrix(1,-0.33933,0,1,2286,2268)">
<clipPath id="cr4"><polygon points="0.0,0.0 389.0,0.0 389.0,6.0 368.0,59.0 389.0,120.0 389.0,140.0 0.0,140.0"/></clipPath>
<g clip-path="url(#cr4)">
<rect x="0" y="0" width="389" height="140" fill="#b070ff"/>
<rect x="0" y="0" width="389" height="22" fill="#8c44fc"/>
<rect x="0" y="22" width="389" height="39" fill="#6420c2"/>
<rect x="0" y="118" width="389" height="140" fill="#9048fa"/>
</g></g>
<polygon points="2288.0,2001.3 2675.0,2136.0 2286.0,2268.0 1900.0,2136.0" fill="#c38af4"/>
<text x="1466.5" y="1909.0" font-family="Liberation Serif" font-size="67" text-anchor="middle" fill="#000" ><tspan font-style="italic">α</tspan>=20°, <tspan font-style="italic">β</tspan>=30°, <tspan font-style="italic">θ</tspan>=20°</text>
<text x="2297.4" y="1901.6" font-family="Liberation Serif" font-size="67" text-anchor="middle" fill="#000" ><tspan font-style="italic">α</tspan>=20°, <tspan font-style="italic">β</tspan>=20°, <tspan font-style="italic">θ</tspan>=20°</text>
<text x="1495.3" y="2503.2" font-family="Liberation Serif" font-size="67" text-anchor="middle" fill="#000" >Reentrant honeycomb</text>
<text x="2290.0" y="2513.9" font-family="Liberation Serif" font-size="67" text-anchor="middle" fill="#000" >Star-shaped honeycomb</text>
<text x="1889.0" y="2620.6" font-family="Liberation Serif" font-size="67" text-anchor="middle" fill="#000" >(c) Corresponding topologies</text>
</svg></body></html>
